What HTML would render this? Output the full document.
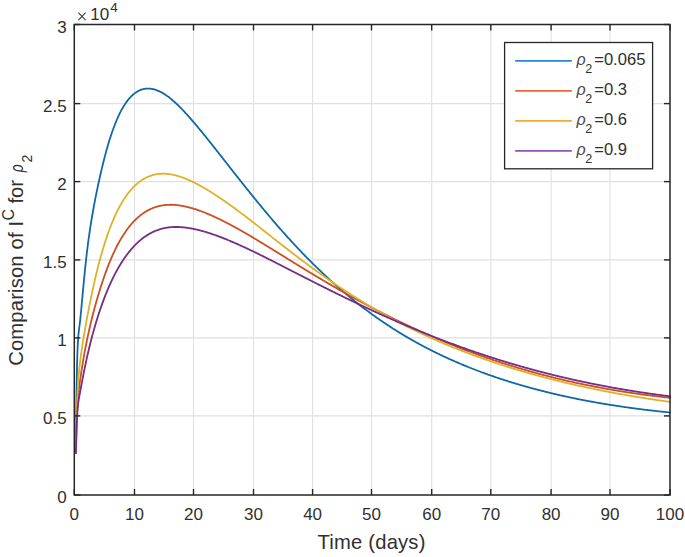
<!DOCTYPE html>
<html><head><meta charset="utf-8"><style>
html,body{margin:0;padding:0;background:#fff;}
svg{display:block;}
text{font-family:"Liberation Sans",sans-serif;fill:#303030;}
</style></head><body>
<svg width="685" height="557" viewBox="0 0 685 557">
<rect width="685" height="557" fill="#fff"/>
<line x1="134.5" y1="24.5" x2="134.5" y2="495.0" stroke="#e0e0e0" stroke-width="1.1"/>
<line x1="193.5" y1="24.5" x2="193.5" y2="495.0" stroke="#e0e0e0" stroke-width="1.1"/>
<line x1="253.5" y1="24.5" x2="253.5" y2="495.0" stroke="#e0e0e0" stroke-width="1.1"/>
<line x1="312.6" y1="24.5" x2="312.6" y2="495.0" stroke="#e0e0e0" stroke-width="1.1"/>
<line x1="371.5" y1="24.5" x2="371.5" y2="495.0" stroke="#e0e0e0" stroke-width="1.1"/>
<line x1="431.7" y1="24.5" x2="431.7" y2="495.0" stroke="#e0e0e0" stroke-width="1.1"/>
<line x1="490.8" y1="24.5" x2="490.8" y2="495.0" stroke="#e0e0e0" stroke-width="1.1"/>
<line x1="551.1" y1="24.5" x2="551.1" y2="495.0" stroke="#e0e0e0" stroke-width="1.1"/>
<line x1="610.0" y1="24.5" x2="610.0" y2="495.0" stroke="#e0e0e0" stroke-width="1.1"/>
<line x1="74.3" y1="103.6" x2="670.0" y2="103.6" stroke="#e0e0e0" stroke-width="1.1"/>
<line x1="74.3" y1="181.6" x2="670.0" y2="181.6" stroke="#e0e0e0" stroke-width="1.1"/>
<line x1="74.3" y1="259.9" x2="670.0" y2="259.9" stroke="#e0e0e0" stroke-width="1.1"/>
<line x1="74.3" y1="337.9" x2="670.0" y2="337.9" stroke="#e0e0e0" stroke-width="1.1"/>
<line x1="74.3" y1="415.9" x2="670.0" y2="415.9" stroke="#e0e0e0" stroke-width="1.1"/>
<path d="M75.91,453.00 L75.92,451.47 L75.95,447.47 L75.99,443.52 L76.02,439.64 L76.05,435.81 L76.09,432.05 L76.12,428.35 L76.16,424.71 L76.20,421.15 L76.23,417.66 L76.27,414.24 L76.31,410.89 L76.35,407.61 L76.39,404.41 L76.43,401.29 L76.47,398.24 L76.51,395.28 L76.55,392.39 L76.59,389.57 L76.64,386.84 L76.68,384.19 L76.72,381.61 L76.77,379.11 L76.81,376.69 L76.86,374.35 L76.90,372.08 L76.95,369.89 L77.00,367.78 L77.05,365.74 L77.09,363.77 L77.14,361.88 L77.19,360.06 L77.24,358.30 L77.29,356.62 L77.34,355.00 L77.40,353.45 L77.45,351.97 L77.50,350.55 L77.56,349.18 L77.61,347.88 L77.66,346.64 L77.72,345.45 L77.78,344.31 L77.83,343.22 L77.89,342.19 L77.95,341.20 L78.00,340.26 L78.06,339.36 L78.12,338.50 L78.18,337.68 L78.24,336.89 L78.30,336.14 L78.36,335.42 L78.43,334.73 L78.49,334.07 L78.55,333.44 L78.62,332.82 L78.68,332.23 L78.74,331.65 L78.81,331.09 L78.88,330.54 L78.94,330.00 L79.01,329.47 L79.08,328.95 L79.15,328.42 L79.21,327.90 L79.28,327.38 L79.35,326.85 L79.42,326.32 L79.50,325.78 L79.57,325.23 L79.64,324.66 L79.71,324.08 L79.79,323.48 L79.86,322.86 L79.93,322.23 L80.01,321.57 L80.08,320.90 L80.16,320.21 L80.24,319.51 L80.31,318.79 L80.39,318.05 L80.47,317.30 L80.55,316.53 L80.63,315.75 L80.71,314.95 L80.79,314.14 L80.87,313.32 L80.95,312.49 L81.04,311.64 L81.12,310.78 L81.20,309.91 L81.29,309.03 L81.37,308.13 L81.46,307.23 L81.54,306.32 L81.63,305.39 L81.72,304.46 L81.80,303.52 L81.89,302.57 L81.98,301.61 L82.07,300.65 L82.16,299.67 L82.25,298.69 L82.34,297.71 L82.43,296.72 L82.52,295.72 L82.62,294.71 L82.71,293.70 L82.80,292.69 L82.90,291.67 L82.99,290.65 L83.09,289.62 L83.18,288.59 L83.28,287.56 L83.38,286.52 L83.48,285.48 L83.57,284.44 L83.67,283.40 L83.77,282.35 L83.87,281.31 L83.97,280.26 L84.07,279.21 L84.17,278.16 L84.28,277.11 L84.38,276.06 L84.48,275.02 L84.59,273.97 L84.69,272.92 L84.80,271.87 L84.90,270.83 L85.01,269.79 L85.12,268.75 L85.22,267.71 L85.33,266.67 L85.44,265.64 L85.55,264.61 L85.66,263.58 L85.77,262.55 L85.88,261.53 L85.99,260.51 L86.10,259.50 L86.21,258.49 L86.86,252.84 L87.51,247.51 L88.16,242.46 L88.81,237.65 L89.46,233.07 L90.11,228.68 L90.76,224.47 L91.41,220.42 L92.06,216.51 L92.71,212.73 L93.36,209.07 L94.01,205.52 L94.66,202.06 L95.31,198.69 L95.95,195.41 L96.60,192.20 L97.25,189.06 L97.90,185.98 L98.55,182.96 L99.20,180.00 L99.85,177.09 L100.50,174.22 L101.15,171.41 L101.80,168.65 L102.45,165.94 L103.10,163.28 L103.75,160.68 L104.40,158.13 L105.05,155.64 L105.70,153.20 L106.34,150.82 L106.99,148.49 L107.64,146.22 L108.29,144.01 L108.94,141.84 L109.59,139.74 L110.24,137.69 L110.89,135.69 L111.54,133.74 L112.19,131.85 L112.84,130.00 L113.49,128.21 L114.14,126.47 L114.79,124.78 L115.44,123.14 L116.09,121.54 L116.73,119.99 L117.38,118.49 L118.03,117.04 L118.68,115.63 L119.33,114.27 L119.98,112.95 L120.63,111.67 L121.28,110.44 L121.93,109.24 L122.58,108.09 L123.23,106.98 L123.88,105.91 L124.53,104.88 L125.18,103.89 L125.83,102.93 L126.48,102.02 L127.12,101.14 L127.77,100.29 L128.42,99.48 L129.07,98.70 L129.72,97.96 L130.37,97.25 L131.02,96.57 L131.67,95.92 L132.32,95.31 L132.97,94.72 L133.62,94.17 L134.27,93.64 L134.92,93.15 L135.57,92.68 L136.22,92.24 L136.87,91.83 L137.51,91.44 L138.16,91.08 L138.81,90.75 L139.46,90.44 L140.11,90.16 L140.76,89.90 L141.41,89.67 L142.06,89.46 L142.71,89.27 L143.36,89.11 L144.01,88.97 L144.66,88.85 L145.31,88.75 L145.96,88.67 L146.61,88.62 L147.26,88.58 L147.90,88.57 L148.55,88.57 L149.20,88.60 L149.85,88.64 L150.50,88.71 L151.15,88.79 L151.80,88.89 L152.45,89.01 L153.10,89.15 L153.75,89.30 L154.40,89.47 L155.05,89.66 L155.70,89.86 L156.35,90.08 L157.00,90.32 L157.64,90.57 L158.29,90.84 L158.94,91.13 L159.59,91.43 L160.24,91.74 L160.89,92.07 L161.54,92.41 L162.19,92.77 L162.84,93.14 L163.49,93.53 L164.14,93.93 L164.79,94.34 L165.44,94.76 L166.09,95.20 L166.74,95.65 L167.39,96.12 L168.03,96.59 L168.68,97.08 L169.33,97.58 L169.98,98.09 L170.63,98.61 L171.28,99.15 L171.93,99.69 L172.58,100.24 L173.23,100.81 L173.88,101.38 L174.53,101.96 L175.18,102.55 L175.83,103.15 L176.48,103.76 L177.13,104.38 L177.78,105.00 L178.42,105.63 L179.07,106.27 L179.72,106.92 L180.37,107.57 L181.02,108.23 L181.67,108.90 L182.32,109.57 L182.97,110.25 L183.62,110.94 L184.27,111.63 L184.92,112.33 L185.57,113.03 L186.22,113.74 L186.87,114.45 L187.52,115.17 L188.17,115.89 L188.81,116.62 L189.46,117.35 L190.11,118.09 L190.76,118.83 L191.41,119.57 L192.06,120.32 L192.71,121.08 L193.36,121.83 L194.01,122.59 L194.66,123.35 L195.31,124.12 L195.96,124.89 L196.61,125.66 L197.26,126.44 L197.91,127.22 L198.56,128.00 L199.20,128.78 L199.85,129.57 L200.50,130.36 L201.15,131.15 L201.80,131.94 L202.45,132.74 L203.10,133.54 L203.75,134.34 L204.40,135.14 L205.05,135.94 L205.70,136.75 L206.35,137.55 L207.00,138.36 L207.65,139.17 L208.30,139.98 L208.95,140.80 L209.59,141.61 L210.24,142.43 L210.89,143.24 L211.54,144.06 L212.19,144.88 L212.84,145.70 L213.49,146.52 L214.14,147.34 L214.79,148.16 L215.44,148.99 L216.09,149.81 L216.74,150.63 L217.39,151.46 L218.04,152.28 L218.69,153.11 L219.34,153.94 L219.98,154.76 L220.63,155.59 L221.28,156.42 L221.93,157.24 L222.58,158.07 L223.23,158.90 L223.88,159.73 L224.53,160.56 L225.18,161.38 L225.83,162.21 L226.48,163.04 L227.13,163.87 L227.78,164.70 L228.43,165.52 L229.08,166.35 L229.73,167.18 L230.37,168.01 L231.02,168.83 L231.67,169.66 L232.32,170.48 L232.97,171.31 L233.62,172.14 L234.27,172.96 L234.92,173.78 L235.57,174.61 L236.22,175.43 L236.87,176.26 L237.52,177.08 L238.17,177.90 L238.82,178.72 L239.47,179.54 L240.12,180.36 L240.76,181.18 L241.41,182.00 L242.06,182.82 L242.71,183.63 L243.36,184.45 L244.01,185.27 L244.66,186.08 L245.31,186.89 L245.96,187.71 L246.61,188.52 L247.26,189.33 L247.91,190.14 L248.56,190.95 L249.21,191.76 L249.86,192.57 L250.51,193.37 L251.15,194.18 L251.80,194.98 L252.45,195.79 L253.10,196.59 L253.75,197.39 L254.40,198.19 L255.05,198.99 L255.70,199.79 L256.35,200.59 L257.00,201.38 L257.65,202.18 L258.30,202.97 L258.95,203.76 L259.60,204.55 L260.25,205.34 L260.90,206.13 L261.54,206.91 L262.19,207.70 L262.84,208.48 L263.49,209.26 L264.14,210.04 L264.79,210.82 L265.44,211.60 L266.09,212.38 L266.74,213.15 L267.39,213.92 L268.04,214.70 L268.69,215.47 L269.34,216.23 L269.99,217.00 L270.64,217.77 L271.29,218.53 L271.93,219.29 L272.58,220.05 L273.23,220.81 L273.88,221.57 L274.53,222.32 L275.18,223.08 L275.83,223.83 L276.48,224.58 L277.13,225.33 L277.78,226.07 L278.43,226.82 L279.08,227.56 L279.73,228.30 L280.38,229.04 L281.03,229.78 L281.68,230.51 L282.32,231.25 L282.97,231.98 L283.62,232.71 L284.27,233.44 L284.92,234.17 L285.57,234.89 L286.22,235.62 L286.87,236.34 L287.52,237.06 L288.17,237.78 L288.82,238.49 L289.47,239.21 L290.12,239.92 L290.77,240.63 L291.42,241.34 L292.07,242.04 L292.71,242.75 L293.36,243.45 L294.01,244.15 L294.66,244.85 L295.31,245.55 L295.96,246.24 L296.61,246.94 L297.26,247.63 L297.91,248.32 L298.56,249.00 L299.21,249.69 L299.86,250.37 L300.51,251.05 L301.16,251.73 L301.81,252.41 L302.46,253.09 L303.10,253.76 L303.75,254.43 L304.40,255.10 L305.05,255.77 L305.70,256.44 L306.35,257.10 L307.00,257.76 L307.65,258.42 L308.30,259.08 L308.95,259.74 L309.60,260.39 L310.25,261.05 L310.90,261.70 L311.55,262.34 L312.20,262.99 L312.85,263.64 L313.49,264.28 L314.14,264.92 L314.79,265.56 L315.44,266.19 L316.09,266.83 L316.74,267.46 L317.39,268.09 L318.04,268.72 L318.69,269.35 L319.34,269.97 L319.99,270.60 L320.64,271.22 L321.29,271.84 L321.94,272.45 L322.59,273.07 L323.24,273.68 L323.88,274.29 L324.53,274.90 L325.18,275.51 L325.83,276.11 L326.48,276.72 L327.13,277.32 L327.78,277.92 L328.43,278.52 L329.08,279.11 L329.73,279.70 L330.38,280.30 L331.03,280.89 L331.68,281.47 L332.33,282.06 L332.98,282.64 L333.62,283.22 L334.27,283.80 L334.92,284.38 L335.57,284.96 L336.22,285.53 L336.87,286.11 L337.52,286.68 L338.17,287.24 L338.82,287.81 L339.47,288.37 L340.12,288.94 L340.77,289.50 L341.42,290.06 L342.07,290.61 L342.72,291.17 L343.37,291.72 L344.01,292.27 L344.66,292.82 L345.31,293.37 L345.96,293.91 L346.61,294.46 L347.26,295.00 L347.91,295.54 L348.56,296.08 L349.21,296.61 L349.86,297.15 L350.51,297.68 L351.16,298.21 L351.81,298.74 L352.46,299.27 L353.11,299.79 L353.76,300.31 L354.40,300.83 L355.05,301.35 L355.70,301.87 L356.35,302.39 L357.00,302.90 L357.65,303.41 L358.30,303.92 L358.95,304.43 L359.60,304.94 L360.25,305.44 L360.90,305.94 L361.55,306.44 L362.20,306.94 L362.85,307.44 L363.50,307.93 L364.15,308.43 L364.79,308.92 L365.44,309.41 L366.09,309.90 L366.74,310.38 L367.39,310.87 L368.04,311.35 L368.69,311.83 L369.34,312.31 L369.99,312.79 L370.64,313.26 L371.29,313.74 L371.94,314.21 L372.59,314.68 L373.24,315.15 L373.89,315.61 L374.54,316.08 L375.18,316.54 L375.83,317.00 L376.48,317.46 L377.13,317.92 L377.78,318.37 L378.43,318.83 L379.08,319.28 L379.73,319.73 L380.38,320.18 L381.03,320.63 L381.68,321.07 L382.33,321.52 L382.98,321.96 L383.63,322.40 L384.28,322.84 L384.93,323.27 L385.57,323.71 L386.22,324.14 L386.87,324.58 L387.52,325.01 L388.17,325.43 L388.82,325.86 L389.47,326.29 L390.12,326.71 L390.77,327.13 L391.42,327.55 L392.07,327.97 L392.72,328.39 L393.37,328.80 L394.02,329.21 L394.67,329.63 L395.32,330.04 L395.96,330.44 L396.61,330.85 L397.26,331.26 L397.91,331.66 L398.56,332.06 L399.21,332.46 L399.86,332.86 L400.51,333.26 L401.16,333.65 L401.81,334.05 L402.46,334.44 L403.11,334.83 L403.76,335.22 L404.41,335.60 L405.06,335.99 L405.71,336.37 L406.35,336.76 L407.00,337.14 L407.65,337.52 L408.30,337.90 L408.95,338.27 L409.60,338.65 L410.25,339.02 L410.90,339.39 L411.55,339.76 L412.20,340.13 L412.85,340.50 L413.50,340.87 L414.15,341.23 L414.80,341.60 L415.45,341.96 L416.10,342.32 L416.74,342.68 L417.39,343.03 L418.04,343.39 L418.69,343.74 L419.34,344.10 L419.99,344.45 L420.64,344.80 L421.29,345.15 L421.94,345.50 L422.59,345.84 L423.24,346.19 L423.89,346.53 L424.54,346.87 L425.19,347.21 L425.84,347.55 L426.49,347.89 L427.13,348.23 L427.78,348.56 L428.43,348.90 L429.08,349.23 L429.73,349.56 L430.38,349.89 L431.03,350.22 L431.68,350.55 L432.33,350.87 L432.98,351.20 L433.63,351.52 L434.28,351.84 L434.93,352.17 L435.58,352.48 L436.23,352.80 L436.88,353.12 L437.52,353.44 L438.17,353.75 L438.82,354.06 L439.47,354.38 L440.12,354.69 L440.77,355.00 L441.42,355.31 L442.07,355.61 L442.72,355.92 L443.37,356.22 L444.02,356.53 L444.67,356.83 L445.32,357.13 L445.97,357.43 L446.62,357.73 L447.27,358.03 L447.91,358.32 L448.56,358.62 L449.21,358.91 L449.86,359.21 L450.51,359.50 L451.16,359.79 L451.81,360.08 L452.46,360.37 L453.11,360.65 L453.76,360.94 L454.41,361.23 L455.06,361.51 L455.71,361.79 L456.36,362.07 L457.01,362.35 L457.66,362.63 L458.30,362.91 L458.95,363.19 L459.60,363.47 L460.25,363.74 L460.90,364.01 L461.55,364.29 L462.20,364.56 L462.85,364.83 L463.50,365.10 L464.15,365.37 L464.80,365.63 L465.45,365.90 L466.10,366.17 L466.75,366.43 L467.40,366.69 L468.05,366.96 L468.69,367.22 L469.34,367.48 L469.99,367.74 L470.64,367.99 L471.29,368.25 L471.94,368.51 L472.59,368.76 L473.24,369.02 L473.89,369.27 L474.54,369.52 L475.19,369.77 L475.84,370.02 L476.49,370.27 L477.14,370.52 L477.79,370.77 L478.44,371.01 L479.08,371.26 L479.73,371.50 L480.38,371.75 L481.03,371.99 L481.68,372.23 L482.33,372.47 L482.98,372.71 L483.63,372.95 L484.28,373.18 L484.93,373.42 L485.58,373.66 L486.23,373.89 L486.88,374.12 L487.53,374.36 L488.18,374.59 L488.83,374.82 L489.47,375.05 L490.12,375.28 L490.77,375.51 L491.42,375.73 L492.07,375.96 L492.72,376.19 L493.37,376.41 L494.02,376.63 L494.67,376.86 L495.32,377.08 L495.97,377.30 L496.62,377.52 L497.27,377.74 L497.92,377.96 L498.57,378.18 L499.21,378.39 L499.86,378.61 L500.51,378.82 L501.16,379.04 L501.81,379.25 L502.46,379.46 L503.11,379.67 L503.76,379.88 L504.41,380.09 L505.06,380.30 L505.71,380.51 L506.36,380.72 L507.01,380.92 L507.66,381.13 L508.31,381.33 L508.96,381.54 L509.60,381.74 L510.25,381.94 L510.90,382.15 L511.55,382.35 L512.20,382.55 L512.85,382.74 L513.50,382.94 L514.15,383.14 L514.80,383.34 L515.45,383.53 L516.10,383.73 L516.75,383.92 L517.40,384.12 L518.05,384.31 L518.70,384.50 L519.35,384.69 L519.99,384.88 L520.64,385.07 L521.29,385.26 L521.94,385.45 L522.59,385.64 L523.24,385.82 L523.89,386.01 L524.54,386.19 L525.19,386.38 L525.84,386.56 L526.49,386.74 L527.14,386.92 L527.79,387.11 L528.44,387.29 L529.09,387.47 L529.74,387.65 L530.38,387.82 L531.03,388.00 L531.68,388.18 L532.33,388.35 L532.98,388.53 L533.63,388.70 L534.28,388.88 L534.93,389.05 L535.58,389.22 L536.23,389.40 L536.88,389.57 L537.53,389.74 L538.18,389.91 L538.83,390.08 L539.48,390.24 L540.13,390.41 L540.77,390.58 L541.42,390.74 L542.07,390.91 L542.72,391.07 L543.37,391.24 L544.02,391.40 L544.67,391.56 L545.32,391.73 L545.97,391.89 L546.62,392.05 L547.27,392.21 L547.92,392.37 L548.57,392.53 L549.22,392.68 L549.87,392.84 L550.52,393.00 L551.16,393.15 L551.81,393.31 L552.46,393.47 L553.11,393.62 L553.76,393.77 L554.41,393.93 L555.06,394.08 L555.71,394.23 L556.36,394.38 L557.01,394.53 L557.66,394.68 L558.31,394.83 L558.96,394.98 L559.61,395.12 L560.26,395.27 L560.91,395.42 L561.55,395.56 L562.20,395.71 L562.85,395.85 L563.50,396.00 L564.15,396.14 L564.80,396.28 L565.45,396.43 L566.10,396.57 L566.75,396.71 L567.40,396.85 L568.05,396.99 L568.70,397.13 L569.35,397.26 L570.00,397.40 L570.65,397.54 L571.30,397.68 L571.94,397.81 L572.59,397.95 L573.24,398.08 L573.89,398.22 L574.54,398.35 L575.19,398.48 L575.84,398.62 L576.49,398.75 L577.14,398.88 L577.79,399.01 L578.44,399.14 L579.09,399.27 L579.74,399.40 L580.39,399.53 L581.04,399.66 L581.69,399.78 L582.33,399.91 L582.98,400.04 L583.63,400.16 L584.28,400.29 L584.93,400.41 L585.58,400.53 L586.23,400.66 L586.88,400.78 L587.53,400.90 L588.18,401.03 L588.83,401.15 L589.48,401.27 L590.13,401.39 L590.78,401.51 L591.43,401.63 L592.08,401.74 L592.72,401.86 L593.37,401.98 L594.02,402.10 L594.67,402.21 L595.32,402.33 L595.97,402.44 L596.62,402.56 L597.27,402.67 L597.92,402.79 L598.57,402.90 L599.22,403.01 L599.87,403.12 L600.52,403.24 L601.17,403.35 L601.82,403.46 L602.47,403.57 L603.11,403.68 L603.76,403.79 L604.41,403.90 L605.06,404.00 L605.71,404.11 L606.36,404.22 L607.01,404.32 L607.66,404.43 L608.31,404.54 L608.96,404.64 L609.61,404.75 L610.26,404.85 L610.91,404.95 L611.56,405.06 L612.21,405.16 L612.86,405.26 L613.50,405.36 L614.15,405.46 L614.80,405.56 L615.45,405.66 L616.10,405.76 L616.75,405.86 L617.40,405.96 L618.05,406.06 L618.70,406.16 L619.35,406.25 L620.00,406.35 L620.65,406.45 L621.30,406.54 L621.95,406.64 L622.60,406.73 L623.25,406.83 L623.89,406.92 L624.54,407.02 L625.19,407.11 L625.84,407.20 L626.49,407.29 L627.14,407.39 L627.79,407.48 L628.44,407.57 L629.09,407.66 L629.74,407.75 L630.39,407.84 L631.04,407.93 L631.69,408.01 L632.34,408.10 L632.99,408.19 L633.64,408.28 L634.28,408.36 L634.93,408.45 L635.58,408.54 L636.23,408.62 L636.88,408.71 L637.53,408.79 L638.18,408.87 L638.83,408.96 L639.48,409.04 L640.13,409.12 L640.78,409.21 L641.43,409.29 L642.08,409.37 L642.73,409.45 L643.38,409.53 L644.03,409.61 L644.67,409.69 L645.32,409.77 L645.97,409.85 L646.62,409.93 L647.27,410.01 L647.92,410.08 L648.57,410.16 L649.22,410.24 L649.87,410.31 L650.52,410.39 L651.17,410.47 L651.82,410.54 L652.47,410.62 L653.12,410.69 L653.77,410.76 L654.42,410.84 L655.06,410.91 L655.71,410.98 L656.36,411.06 L657.01,411.13 L657.66,411.20 L658.31,411.27 L658.96,411.34 L659.61,411.41 L660.26,411.48 L660.91,411.55 L661.56,411.62 L662.21,411.69 L662.86,411.76 L663.51,411.83 L664.16,411.89 L664.81,411.96 L665.45,412.03 L666.10,412.09 L666.75,412.16 L667.40,412.23 L668.05,412.29 L668.70,412.36 L669.35,412.42 L670.00,412.48" fill="none" stroke="#1068a5" stroke-width="1.8" stroke-linejoin="round" stroke-linecap="round"/>
<path d="M75.92,453.00 L75.92,452.95 L75.95,451.28 L75.99,449.63 L76.02,447.99 L76.05,446.36 L76.09,444.76 L76.12,443.17 L76.16,441.60 L76.20,440.05 L76.23,438.51 L76.27,437.00 L76.31,435.51 L76.35,434.04 L76.39,432.60 L76.43,431.17 L76.47,429.77 L76.51,428.39 L76.55,427.04 L76.59,425.71 L76.64,424.40 L76.68,423.12 L76.72,421.86 L76.77,420.63 L76.81,419.42 L76.86,418.23 L76.90,417.07 L76.95,415.93 L77.00,414.82 L77.05,413.73 L77.09,412.66 L77.14,411.62 L77.19,410.60 L77.24,409.60 L77.29,408.63 L77.34,407.68 L77.40,406.75 L77.45,405.84 L77.50,404.95 L77.56,404.09 L77.61,403.24 L77.66,402.41 L77.72,401.61 L77.78,400.82 L77.83,400.05 L77.89,399.30 L77.95,398.56 L78.00,397.84 L78.06,397.14 L78.12,396.45 L78.18,395.78 L78.24,395.12 L78.30,394.48 L78.36,393.85 L78.43,393.23 L78.49,392.62 L78.55,392.02 L78.62,391.43 L78.68,390.86 L78.74,390.29 L78.81,389.73 L78.88,389.17 L78.94,388.63 L79.01,388.09 L79.08,387.55 L79.15,387.02 L79.21,386.49 L79.28,385.97 L79.35,385.45 L79.42,384.93 L79.50,384.41 L79.57,383.89 L79.64,383.38 L79.71,382.86 L79.79,382.34 L79.86,381.82 L79.93,381.29 L80.01,380.77 L80.08,380.24 L80.16,379.71 L80.24,379.18 L80.31,378.65 L80.39,378.12 L80.47,377.58 L80.55,377.05 L80.63,376.51 L80.71,375.97 L80.79,375.43 L80.87,374.89 L80.95,374.34 L81.04,373.80 L81.12,373.25 L81.20,372.71 L81.29,372.16 L81.37,371.61 L81.46,371.06 L81.54,370.51 L81.63,369.96 L81.72,369.40 L81.80,368.85 L81.89,368.30 L81.98,367.74 L82.07,367.18 L82.16,366.63 L82.25,366.07 L82.34,365.51 L82.43,364.95 L82.52,364.39 L82.62,363.83 L82.71,363.27 L82.80,362.71 L82.90,362.14 L82.99,361.58 L83.09,361.02 L83.18,360.45 L83.28,359.89 L83.38,359.32 L83.48,358.76 L83.57,358.19 L83.67,357.63 L83.77,357.06 L83.87,356.49 L83.97,355.92 L84.07,355.36 L84.17,354.79 L84.28,354.22 L84.38,353.65 L84.48,353.08 L84.59,352.52 L84.69,351.95 L84.80,351.38 L84.90,350.81 L85.01,350.24 L85.12,349.67 L85.22,349.10 L85.33,348.53 L85.44,347.96 L85.55,347.40 L85.66,346.83 L85.77,346.26 L85.88,345.69 L85.99,345.12 L86.10,344.55 L86.21,343.98 L86.86,340.76 L87.51,337.62 L88.16,334.57 L88.81,331.61 L89.46,328.72 L90.11,325.90 L90.76,323.15 L91.41,320.46 L92.06,317.82 L92.71,315.25 L93.36,312.73 L94.01,310.25 L94.66,307.83 L95.31,305.45 L95.95,303.11 L96.60,300.82 L97.25,298.56 L97.90,296.35 L98.55,294.16 L99.20,292.02 L99.85,289.90 L100.50,287.82 L101.15,285.77 L101.80,283.76 L102.45,281.78 L103.10,279.83 L103.75,277.92 L104.40,276.04 L105.05,274.19 L105.70,272.38 L106.34,270.60 L106.99,268.86 L107.64,267.15 L108.29,265.47 L108.94,263.83 L109.59,262.22 L110.24,260.64 L110.89,259.09 L111.54,257.58 L112.19,256.09 L112.84,254.64 L113.49,253.21 L114.14,251.82 L114.79,250.45 L115.44,249.11 L116.09,247.80 L116.73,246.52 L117.38,245.27 L118.03,244.04 L118.68,242.84 L119.33,241.67 L119.98,240.52 L120.63,239.39 L121.28,238.29 L121.93,237.22 L122.58,236.17 L123.23,235.14 L123.88,234.14 L124.53,233.15 L125.18,232.20 L125.83,231.26 L126.48,230.34 L127.12,229.45 L127.77,228.58 L128.42,227.73 L129.07,226.89 L129.72,226.08 L130.37,225.29 L131.02,224.52 L131.67,223.77 L132.32,223.03 L132.97,222.32 L133.62,221.62 L134.27,220.94 L134.92,220.28 L135.57,219.63 L136.22,219.01 L136.87,218.40 L137.51,217.80 L138.16,217.23 L138.81,216.67 L139.46,216.12 L140.11,215.59 L140.76,215.08 L141.41,214.58 L142.06,214.10 L142.71,213.63 L143.36,213.18 L144.01,212.74 L144.66,212.31 L145.31,211.90 L145.96,211.50 L146.61,211.11 L147.26,210.74 L147.90,210.38 L148.55,210.04 L149.20,209.71 L149.85,209.38 L150.50,209.08 L151.15,208.78 L151.80,208.50 L152.45,208.22 L153.10,207.96 L153.75,207.71 L154.40,207.48 L155.05,207.25 L155.70,207.03 L156.35,206.83 L157.00,206.63 L157.64,206.45 L158.29,206.28 L158.94,206.11 L159.59,205.96 L160.24,205.82 L160.89,205.68 L161.54,205.56 L162.19,205.44 L162.84,205.34 L163.49,205.24 L164.14,205.16 L164.79,205.08 L165.44,205.01 L166.09,204.95 L166.74,204.90 L167.39,204.86 L168.03,204.82 L168.68,204.80 L169.33,204.78 L169.98,204.77 L170.63,204.76 L171.28,204.77 L171.93,204.78 L172.58,204.80 L173.23,204.83 L173.88,204.87 L174.53,204.91 L175.18,204.96 L175.83,205.01 L176.48,205.07 L177.13,205.14 L177.78,205.21 L178.42,205.29 L179.07,205.38 L179.72,205.47 L180.37,205.57 L181.02,205.68 L181.67,205.79 L182.32,205.90 L182.97,206.02 L183.62,206.15 L184.27,206.28 L184.92,206.42 L185.57,206.56 L186.22,206.70 L186.87,206.86 L187.52,207.01 L188.17,207.17 L188.81,207.34 L189.46,207.51 L190.11,207.68 L190.76,207.86 L191.41,208.05 L192.06,208.23 L192.71,208.42 L193.36,208.62 L194.01,208.82 L194.66,209.02 L195.31,209.23 L195.96,209.44 L196.61,209.66 L197.26,209.88 L197.91,210.10 L198.56,210.32 L199.20,210.55 L199.85,210.79 L200.50,211.02 L201.15,211.26 L201.80,211.51 L202.45,211.75 L203.10,212.00 L203.75,212.25 L204.40,212.51 L205.05,212.77 L205.70,213.03 L206.35,213.29 L207.00,213.56 L207.65,213.83 L208.30,214.10 L208.95,214.38 L209.59,214.66 L210.24,214.94 L210.89,215.22 L211.54,215.51 L212.19,215.80 L212.84,216.09 L213.49,216.38 L214.14,216.68 L214.79,216.97 L215.44,217.27 L216.09,217.58 L216.74,217.88 L217.39,218.19 L218.04,218.50 L218.69,218.81 L219.34,219.12 L219.98,219.44 L220.63,219.76 L221.28,220.08 L221.93,220.40 L222.58,220.72 L223.23,221.05 L223.88,221.37 L224.53,221.70 L225.18,222.03 L225.83,222.37 L226.48,222.70 L227.13,223.04 L227.78,223.38 L228.43,223.71 L229.08,224.06 L229.73,224.40 L230.37,224.74 L231.02,225.09 L231.67,225.44 L232.32,225.79 L232.97,226.14 L233.62,226.49 L234.27,226.84 L234.92,227.20 L235.57,227.55 L236.22,227.91 L236.87,228.27 L237.52,228.63 L238.17,228.99 L238.82,229.36 L239.47,229.72 L240.12,230.09 L240.76,230.45 L241.41,230.82 L242.06,231.19 L242.71,231.56 L243.36,231.93 L244.01,232.31 L244.66,232.68 L245.31,233.06 L245.96,233.43 L246.61,233.81 L247.26,234.19 L247.91,234.57 L248.56,234.95 L249.21,235.33 L249.86,235.71 L250.51,236.09 L251.15,236.48 L251.80,236.86 L252.45,237.25 L253.10,237.64 L253.75,238.02 L254.40,238.41 L255.05,238.80 L255.70,239.19 L256.35,239.58 L257.00,239.97 L257.65,240.36 L258.30,240.76 L258.95,241.15 L259.60,241.54 L260.25,241.94 L260.90,242.33 L261.54,242.73 L262.19,243.12 L262.84,243.52 L263.49,243.92 L264.14,244.31 L264.79,244.71 L265.44,245.11 L266.09,245.51 L266.74,245.90 L267.39,246.30 L268.04,246.70 L268.69,247.10 L269.34,247.50 L269.99,247.90 L270.64,248.30 L271.29,248.70 L271.93,249.10 L272.58,249.50 L273.23,249.91 L273.88,250.31 L274.53,250.71 L275.18,251.11 L275.83,251.51 L276.48,251.91 L277.13,252.32 L277.78,252.72 L278.43,253.12 L279.08,253.52 L279.73,253.92 L280.38,254.33 L281.03,254.73 L281.68,255.13 L282.32,255.53 L282.97,255.93 L283.62,256.34 L284.27,256.74 L284.92,257.14 L285.57,257.54 L286.22,257.94 L286.87,258.35 L287.52,258.75 L288.17,259.15 L288.82,259.55 L289.47,259.95 L290.12,260.35 L290.77,260.75 L291.42,261.15 L292.07,261.56 L292.71,261.96 L293.36,262.36 L294.01,262.76 L294.66,263.16 L295.31,263.56 L295.96,263.95 L296.61,264.35 L297.26,264.75 L297.91,265.15 L298.56,265.55 L299.21,265.95 L299.86,266.35 L300.51,266.74 L301.16,267.14 L301.81,267.54 L302.46,267.93 L303.10,268.33 L303.75,268.73 L304.40,269.12 L305.05,269.52 L305.70,269.91 L306.35,270.31 L307.00,270.70 L307.65,271.09 L308.30,271.49 L308.95,271.88 L309.60,272.27 L310.25,272.67 L310.90,273.06 L311.55,273.45 L312.20,273.84 L312.85,274.23 L313.49,274.62 L314.14,275.01 L314.79,275.40 L315.44,275.79 L316.09,276.18 L316.74,276.57 L317.39,276.96 L318.04,277.34 L318.69,277.73 L319.34,278.12 L319.99,278.50 L320.64,278.89 L321.29,279.27 L321.94,279.66 L322.59,280.04 L323.24,280.43 L323.88,280.81 L324.53,281.19 L325.18,281.58 L325.83,281.96 L326.48,282.34 L327.13,282.72 L327.78,283.10 L328.43,283.48 L329.08,283.86 L329.73,284.24 L330.38,284.62 L331.03,284.99 L331.68,285.37 L332.33,285.75 L332.98,286.12 L333.62,286.50 L334.27,286.87 L334.92,287.25 L335.57,287.62 L336.22,288.00 L336.87,288.37 L337.52,288.74 L338.17,289.11 L338.82,289.48 L339.47,289.86 L340.12,290.23 L340.77,290.60 L341.42,290.96 L342.07,291.33 L342.72,291.70 L343.37,292.07 L344.01,292.43 L344.66,292.80 L345.31,293.17 L345.96,293.53 L346.61,293.90 L347.26,294.26 L347.91,294.62 L348.56,294.99 L349.21,295.35 L349.86,295.71 L350.51,296.07 L351.16,296.43 L351.81,296.79 L352.46,297.15 L353.11,297.51 L353.76,297.87 L354.40,298.22 L355.05,298.58 L355.70,298.94 L356.35,299.29 L357.00,299.65 L357.65,300.00 L358.30,300.36 L358.95,300.71 L359.60,301.06 L360.25,301.41 L360.90,301.77 L361.55,302.12 L362.20,302.47 L362.85,302.82 L363.50,303.17 L364.15,303.51 L364.79,303.86 L365.44,304.21 L366.09,304.56 L366.74,304.90 L367.39,305.25 L368.04,305.59 L368.69,305.94 L369.34,306.28 L369.99,306.62 L370.64,306.96 L371.29,307.31 L371.94,307.65 L372.59,307.99 L373.24,308.33 L373.89,308.67 L374.54,309.01 L375.18,309.34 L375.83,309.68 L376.48,310.02 L377.13,310.35 L377.78,310.69 L378.43,311.02 L379.08,311.36 L379.73,311.69 L380.38,312.02 L381.03,312.36 L381.68,312.69 L382.33,313.02 L382.98,313.35 L383.63,313.68 L384.28,314.01 L384.93,314.34 L385.57,314.66 L386.22,314.99 L386.87,315.32 L387.52,315.65 L388.17,315.97 L388.82,316.30 L389.47,316.62 L390.12,316.94 L390.77,317.27 L391.42,317.59 L392.07,317.91 L392.72,318.23 L393.37,318.55 L394.02,318.87 L394.67,319.19 L395.32,319.51 L395.96,319.83 L396.61,320.14 L397.26,320.46 L397.91,320.78 L398.56,321.09 L399.21,321.41 L399.86,321.72 L400.51,322.03 L401.16,322.35 L401.81,322.66 L402.46,322.97 L403.11,323.28 L403.76,323.59 L404.41,323.90 L405.06,324.21 L405.71,324.52 L406.35,324.83 L407.00,325.13 L407.65,325.44 L408.30,325.75 L408.95,326.05 L409.60,326.36 L410.25,326.66 L410.90,326.96 L411.55,327.27 L412.20,327.57 L412.85,327.87 L413.50,328.17 L414.15,328.47 L414.80,328.77 L415.45,329.07 L416.10,329.37 L416.74,329.66 L417.39,329.96 L418.04,330.26 L418.69,330.55 L419.34,330.85 L419.99,331.14 L420.64,331.43 L421.29,331.73 L421.94,332.02 L422.59,332.31 L423.24,332.60 L423.89,332.89 L424.54,333.18 L425.19,333.47 L425.84,333.76 L426.49,334.04 L427.13,334.33 L427.78,334.62 L428.43,334.90 L429.08,335.19 L429.73,335.47 L430.38,335.75 L431.03,336.04 L431.68,336.32 L432.33,336.60 L432.98,336.88 L433.63,337.16 L434.28,337.44 L434.93,337.72 L435.58,338.00 L436.23,338.27 L436.88,338.55 L437.52,338.83 L438.17,339.10 L438.82,339.38 L439.47,339.65 L440.12,339.92 L440.77,340.20 L441.42,340.47 L442.07,340.74 L442.72,341.01 L443.37,341.28 L444.02,341.55 L444.67,341.82 L445.32,342.09 L445.97,342.35 L446.62,342.62 L447.27,342.88 L447.91,343.15 L448.56,343.41 L449.21,343.68 L449.86,343.94 L450.51,344.20 L451.16,344.47 L451.81,344.73 L452.46,344.99 L453.11,345.25 L453.76,345.51 L454.41,345.76 L455.06,346.02 L455.71,346.28 L456.36,346.53 L457.01,346.79 L457.66,347.05 L458.30,347.30 L458.95,347.55 L459.60,347.81 L460.25,348.06 L460.90,348.31 L461.55,348.56 L462.20,348.81 L462.85,349.06 L463.50,349.31 L464.15,349.56 L464.80,349.81 L465.45,350.05 L466.10,350.30 L466.75,350.54 L467.40,350.79 L468.05,351.03 L468.69,351.28 L469.34,351.52 L469.99,351.76 L470.64,352.00 L471.29,352.25 L471.94,352.49 L472.59,352.73 L473.24,352.96 L473.89,353.20 L474.54,353.44 L475.19,353.68 L475.84,353.91 L476.49,354.15 L477.14,354.38 L477.79,354.62 L478.44,354.85 L479.08,355.08 L479.73,355.32 L480.38,355.55 L481.03,355.78 L481.68,356.01 L482.33,356.24 L482.98,356.47 L483.63,356.70 L484.28,356.92 L484.93,357.15 L485.58,357.38 L486.23,357.60 L486.88,357.83 L487.53,358.05 L488.18,358.28 L488.83,358.50 L489.47,358.72 L490.12,358.94 L490.77,359.16 L491.42,359.39 L492.07,359.61 L492.72,359.82 L493.37,360.04 L494.02,360.26 L494.67,360.48 L495.32,360.69 L495.97,360.91 L496.62,361.13 L497.27,361.34 L497.92,361.55 L498.57,361.77 L499.21,361.98 L499.86,362.19 L500.51,362.40 L501.16,362.61 L501.81,362.82 L502.46,363.03 L503.11,363.24 L503.76,363.45 L504.41,363.66 L505.06,363.87 L505.71,364.07 L506.36,364.28 L507.01,364.48 L507.66,364.69 L508.31,364.89 L508.96,365.09 L509.60,365.30 L510.25,365.50 L510.90,365.70 L511.55,365.90 L512.20,366.10 L512.85,366.30 L513.50,366.50 L514.15,366.70 L514.80,366.89 L515.45,367.09 L516.10,367.29 L516.75,367.48 L517.40,367.68 L518.05,367.87 L518.70,368.06 L519.35,368.26 L519.99,368.45 L520.64,368.64 L521.29,368.83 L521.94,369.02 L522.59,369.21 L523.24,369.40 L523.89,369.59 L524.54,369.78 L525.19,369.97 L525.84,370.15 L526.49,370.34 L527.14,370.52 L527.79,370.71 L528.44,370.89 L529.09,371.08 L529.74,371.26 L530.38,371.44 L531.03,371.63 L531.68,371.81 L532.33,371.99 L532.98,372.17 L533.63,372.35 L534.28,372.53 L534.93,372.70 L535.58,372.88 L536.23,373.06 L536.88,373.24 L537.53,373.41 L538.18,373.59 L538.83,373.76 L539.48,373.94 L540.13,374.11 L540.77,374.28 L541.42,374.45 L542.07,374.63 L542.72,374.80 L543.37,374.97 L544.02,375.14 L544.67,375.31 L545.32,375.47 L545.97,375.64 L546.62,375.81 L547.27,375.98 L547.92,376.14 L548.57,376.31 L549.22,376.47 L549.87,376.64 L550.52,376.80 L551.16,376.97 L551.81,377.13 L552.46,377.29 L553.11,377.45 L553.76,377.61 L554.41,377.77 L555.06,377.93 L555.71,378.09 L556.36,378.25 L557.01,378.41 L557.66,378.57 L558.31,378.73 L558.96,378.88 L559.61,379.04 L560.26,379.19 L560.91,379.35 L561.55,379.50 L562.20,379.66 L562.85,379.81 L563.50,379.96 L564.15,380.11 L564.80,380.26 L565.45,380.41 L566.10,380.56 L566.75,380.71 L567.40,380.86 L568.05,381.01 L568.70,381.16 L569.35,381.31 L570.00,381.45 L570.65,381.60 L571.30,381.74 L571.94,381.89 L572.59,382.03 L573.24,382.18 L573.89,382.32 L574.54,382.46 L575.19,382.61 L575.84,382.75 L576.49,382.89 L577.14,383.03 L577.79,383.17 L578.44,383.31 L579.09,383.45 L579.74,383.59 L580.39,383.72 L581.04,383.86 L581.69,384.00 L582.33,384.14 L582.98,384.27 L583.63,384.41 L584.28,384.54 L584.93,384.67 L585.58,384.81 L586.23,384.94 L586.88,385.07 L587.53,385.20 L588.18,385.34 L588.83,385.47 L589.48,385.60 L590.13,385.73 L590.78,385.86 L591.43,385.98 L592.08,386.11 L592.72,386.24 L593.37,386.37 L594.02,386.49 L594.67,386.62 L595.32,386.74 L595.97,386.87 L596.62,386.99 L597.27,387.12 L597.92,387.24 L598.57,387.36 L599.22,387.49 L599.87,387.61 L600.52,387.73 L601.17,387.85 L601.82,387.97 L602.47,388.09 L603.11,388.21 L603.76,388.33 L604.41,388.45 L605.06,388.56 L605.71,388.68 L606.36,388.80 L607.01,388.91 L607.66,389.03 L608.31,389.14 L608.96,389.26 L609.61,389.37 L610.26,389.48 L610.91,389.60 L611.56,389.71 L612.21,389.82 L612.86,389.93 L613.50,390.04 L614.15,390.15 L614.80,390.26 L615.45,390.37 L616.10,390.48 L616.75,390.59 L617.40,390.70 L618.05,390.80 L618.70,390.91 L619.35,391.02 L620.00,391.12 L620.65,391.23 L621.30,391.33 L621.95,391.44 L622.60,391.54 L623.25,391.65 L623.89,391.75 L624.54,391.85 L625.19,391.95 L625.84,392.05 L626.49,392.15 L627.14,392.25 L627.79,392.35 L628.44,392.45 L629.09,392.55 L629.74,392.65 L630.39,392.75 L631.04,392.85 L631.69,392.94 L632.34,393.04 L632.99,393.14 L633.64,393.23 L634.28,393.33 L634.93,393.42 L635.58,393.51 L636.23,393.61 L636.88,393.70 L637.53,393.79 L638.18,393.88 L638.83,393.98 L639.48,394.07 L640.13,394.16 L640.78,394.25 L641.43,394.34 L642.08,394.43 L642.73,394.52 L643.38,394.60 L644.03,394.69 L644.67,394.78 L645.32,394.87 L645.97,394.95 L646.62,395.04 L647.27,395.12 L647.92,395.21 L648.57,395.29 L649.22,395.38 L649.87,395.46 L650.52,395.54 L651.17,395.63 L651.82,395.71 L652.47,395.79 L653.12,395.87 L653.77,395.95 L654.42,396.03 L655.06,396.11 L655.71,396.19 L656.36,396.27 L657.01,396.35 L657.66,396.43 L658.31,396.50 L658.96,396.58 L659.61,396.66 L660.26,396.73 L660.91,396.81 L661.56,396.88 L662.21,396.96 L662.86,397.03 L663.51,397.11 L664.16,397.18 L664.81,397.25 L665.45,397.33 L666.10,397.40 L666.75,397.47 L667.40,397.54 L668.05,397.61 L668.70,397.68 L669.35,397.75 L670.00,397.82" fill="none" stroke="#cc4e22" stroke-width="1.8" stroke-linejoin="round" stroke-linecap="round"/>
<path d="M75.92,453.00 L75.92,452.80 L75.95,450.85 L75.99,448.92 L76.02,447.00 L76.05,445.09 L76.09,443.20 L76.12,441.32 L76.16,439.47 L76.20,437.63 L76.23,435.81 L76.27,434.01 L76.31,432.23 L76.35,430.47 L76.39,428.73 L76.43,427.02 L76.47,425.33 L76.51,423.66 L76.55,422.01 L76.59,420.39 L76.64,418.80 L76.68,417.23 L76.72,415.68 L76.77,414.16 L76.81,412.66 L76.86,411.19 L76.90,409.75 L76.95,408.32 L77.00,406.93 L77.05,405.56 L77.09,404.22 L77.14,402.90 L77.19,401.60 L77.24,400.33 L77.29,399.09 L77.34,397.87 L77.40,396.67 L77.45,395.50 L77.50,394.35 L77.56,393.23 L77.61,392.13 L77.66,391.05 L77.72,389.99 L77.78,388.95 L77.83,387.94 L77.89,386.94 L77.95,385.97 L78.00,385.01 L78.06,384.08 L78.12,383.16 L78.18,382.26 L78.24,381.38 L78.30,380.51 L78.36,379.67 L78.43,378.83 L78.49,378.02 L78.55,377.22 L78.62,376.43 L78.68,375.65 L78.74,374.89 L78.81,374.14 L78.88,373.40 L78.94,372.67 L79.01,371.95 L79.08,371.24 L79.15,370.55 L79.21,369.85 L79.28,369.17 L79.35,368.49 L79.42,367.82 L79.50,367.16 L79.57,366.50 L79.64,365.84 L79.71,365.19 L79.79,364.54 L79.86,363.89 L79.93,363.25 L80.01,362.61 L80.08,361.97 L80.16,361.33 L80.24,360.70 L80.31,360.06 L80.39,359.43 L80.47,358.81 L80.55,358.18 L80.63,357.56 L80.71,356.94 L80.79,356.32 L80.87,355.70 L80.95,355.08 L81.04,354.47 L81.12,353.85 L81.20,353.24 L81.29,352.63 L81.37,352.02 L81.46,351.41 L81.54,350.81 L81.63,350.20 L81.72,349.60 L81.80,348.99 L81.89,348.39 L81.98,347.79 L82.07,347.19 L82.16,346.59 L82.25,345.99 L82.34,345.39 L82.43,344.79 L82.52,344.19 L82.62,343.60 L82.71,343.00 L82.80,342.40 L82.90,341.81 L82.99,341.21 L83.09,340.61 L83.18,340.02 L83.28,339.42 L83.38,338.82 L83.48,338.23 L83.57,337.63 L83.67,337.03 L83.77,336.44 L83.87,335.84 L83.97,335.24 L84.07,334.64 L84.17,334.04 L84.28,333.44 L84.38,332.84 L84.48,332.24 L84.59,331.64 L84.69,331.04 L84.80,330.43 L84.90,329.83 L85.01,329.22 L85.12,328.62 L85.22,328.01 L85.33,327.40 L85.44,326.79 L85.55,326.18 L85.66,325.57 L85.77,324.96 L85.88,324.34 L85.99,323.73 L86.10,323.11 L86.21,322.49 L86.86,318.95 L87.51,315.46 L88.16,312.01 L88.81,308.63 L89.46,305.30 L90.11,302.02 L90.76,298.81 L91.41,295.66 L92.06,292.57 L92.71,289.53 L93.36,286.56 L94.01,283.65 L94.66,280.79 L95.31,277.99 L95.95,275.25 L96.60,272.56 L97.25,269.93 L97.90,267.34 L98.55,264.81 L99.20,262.33 L99.85,259.90 L100.50,257.52 L101.15,255.19 L101.80,252.90 L102.45,250.66 L103.10,248.47 L103.75,246.32 L104.40,244.22 L105.05,242.17 L105.70,240.16 L106.34,238.19 L106.99,236.27 L107.64,234.39 L108.29,232.55 L108.94,230.76 L109.59,229.00 L110.24,227.29 L110.89,225.62 L111.54,223.98 L112.19,222.38 L112.84,220.82 L113.49,219.30 L114.14,217.81 L114.79,216.36 L115.44,214.94 L116.09,213.55 L116.73,212.20 L117.38,210.88 L118.03,209.60 L118.68,208.34 L119.33,207.12 L119.98,205.93 L120.63,204.76 L121.28,203.63 L121.93,202.52 L122.58,201.44 L123.23,200.39 L123.88,199.37 L124.53,198.37 L125.18,197.40 L125.83,196.45 L126.48,195.53 L127.12,194.63 L127.77,193.76 L128.42,192.91 L129.07,192.09 L129.72,191.29 L130.37,190.51 L131.02,189.75 L131.67,189.02 L132.32,188.31 L132.97,187.61 L133.62,186.94 L134.27,186.29 L134.92,185.66 L135.57,185.05 L136.22,184.46 L136.87,183.89 L137.51,183.34 L138.16,182.80 L138.81,182.28 L139.46,181.79 L140.11,181.31 L140.76,180.84 L141.41,180.40 L142.06,179.97 L142.71,179.55 L143.36,179.16 L144.01,178.78 L144.66,178.41 L145.31,178.06 L145.96,177.73 L146.61,177.41 L147.26,177.10 L147.90,176.81 L148.55,176.54 L149.20,176.28 L149.85,176.03 L150.50,175.80 L151.15,175.58 L151.80,175.37 L152.45,175.17 L153.10,174.99 L153.75,174.83 L154.40,174.67 L155.05,174.53 L155.70,174.39 L156.35,174.27 L157.00,174.17 L157.64,174.07 L158.29,173.99 L158.94,173.91 L159.59,173.85 L160.24,173.80 L160.89,173.76 L161.54,173.73 L162.19,173.71 L162.84,173.70 L163.49,173.70 L164.14,173.71 L164.79,173.73 L165.44,173.76 L166.09,173.80 L166.74,173.85 L167.39,173.91 L168.03,173.98 L168.68,174.05 L169.33,174.14 L169.98,174.23 L170.63,174.34 L171.28,174.45 L171.93,174.57 L172.58,174.69 L173.23,174.83 L173.88,174.97 L174.53,175.12 L175.18,175.28 L175.83,175.45 L176.48,175.62 L177.13,175.80 L177.78,175.98 L178.42,176.18 L179.07,176.37 L179.72,176.58 L180.37,176.79 L181.02,177.01 L181.67,177.23 L182.32,177.46 L182.97,177.70 L183.62,177.94 L184.27,178.19 L184.92,178.44 L185.57,178.70 L186.22,178.96 L186.87,179.23 L187.52,179.50 L188.17,179.78 L188.81,180.06 L189.46,180.35 L190.11,180.64 L190.76,180.94 L191.41,181.24 L192.06,181.55 L192.71,181.86 L193.36,182.17 L194.01,182.49 L194.66,182.82 L195.31,183.14 L195.96,183.48 L196.61,183.81 L197.26,184.15 L197.91,184.49 L198.56,184.84 L199.20,185.19 L199.85,185.54 L200.50,185.90 L201.15,186.26 L201.80,186.63 L202.45,186.99 L203.10,187.36 L203.75,187.74 L204.40,188.11 L205.05,188.49 L205.70,188.88 L206.35,189.26 L207.00,189.65 L207.65,190.04 L208.30,190.44 L208.95,190.84 L209.59,191.24 L210.24,191.64 L210.89,192.04 L211.54,192.45 L212.19,192.86 L212.84,193.28 L213.49,193.69 L214.14,194.11 L214.79,194.53 L215.44,194.95 L216.09,195.38 L216.74,195.80 L217.39,196.23 L218.04,196.67 L218.69,197.10 L219.34,197.53 L219.98,197.97 L220.63,198.41 L221.28,198.85 L221.93,199.30 L222.58,199.74 L223.23,200.19 L223.88,200.64 L224.53,201.09 L225.18,201.54 L225.83,202.00 L226.48,202.45 L227.13,202.91 L227.78,203.37 L228.43,203.83 L229.08,204.30 L229.73,204.76 L230.37,205.23 L231.02,205.69 L231.67,206.16 L232.32,206.63 L232.97,207.10 L233.62,207.58 L234.27,208.05 L234.92,208.53 L235.57,209.01 L236.22,209.48 L236.87,209.96 L237.52,210.45 L238.17,210.93 L238.82,211.41 L239.47,211.90 L240.12,212.38 L240.76,212.87 L241.41,213.36 L242.06,213.85 L242.71,214.34 L243.36,214.83 L244.01,215.32 L244.66,215.81 L245.31,216.31 L245.96,216.81 L246.61,217.30 L247.26,217.80 L247.91,218.30 L248.56,218.80 L249.21,219.30 L249.86,219.80 L250.51,220.30 L251.15,220.80 L251.80,221.31 L252.45,221.81 L253.10,222.32 L253.75,222.82 L254.40,223.33 L255.05,223.83 L255.70,224.34 L256.35,224.85 L257.00,225.36 L257.65,225.86 L258.30,226.37 L258.95,226.88 L259.60,227.39 L260.25,227.90 L260.90,228.41 L261.54,228.92 L262.19,229.43 L262.84,229.94 L263.49,230.46 L264.14,230.97 L264.79,231.48 L265.44,231.99 L266.09,232.50 L266.74,233.01 L267.39,233.52 L268.04,234.04 L268.69,234.55 L269.34,235.06 L269.99,235.57 L270.64,236.08 L271.29,236.59 L271.93,237.10 L272.58,237.62 L273.23,238.13 L273.88,238.64 L274.53,239.15 L275.18,239.66 L275.83,240.17 L276.48,240.68 L277.13,241.19 L277.78,241.70 L278.43,242.20 L279.08,242.71 L279.73,243.22 L280.38,243.73 L281.03,244.24 L281.68,244.74 L282.32,245.25 L282.97,245.76 L283.62,246.26 L284.27,246.77 L284.92,247.27 L285.57,247.78 L286.22,248.28 L286.87,248.78 L287.52,249.29 L288.17,249.79 L288.82,250.29 L289.47,250.79 L290.12,251.29 L290.77,251.79 L291.42,252.29 L292.07,252.79 L292.71,253.29 L293.36,253.78 L294.01,254.28 L294.66,254.78 L295.31,255.27 L295.96,255.77 L296.61,256.26 L297.26,256.76 L297.91,257.25 L298.56,257.74 L299.21,258.23 L299.86,258.72 L300.51,259.21 L301.16,259.70 L301.81,260.19 L302.46,260.68 L303.10,261.16 L303.75,261.65 L304.40,262.14 L305.05,262.62 L305.70,263.10 L306.35,263.59 L307.00,264.07 L307.65,264.55 L308.30,265.03 L308.95,265.51 L309.60,265.99 L310.25,266.47 L310.90,266.94 L311.55,267.42 L312.20,267.89 L312.85,268.37 L313.49,268.84 L314.14,269.31 L314.79,269.79 L315.44,270.26 L316.09,270.73 L316.74,271.20 L317.39,271.66 L318.04,272.13 L318.69,272.60 L319.34,273.06 L319.99,273.53 L320.64,273.99 L321.29,274.45 L321.94,274.91 L322.59,275.38 L323.24,275.84 L323.88,276.29 L324.53,276.75 L325.18,277.21 L325.83,277.66 L326.48,278.12 L327.13,278.57 L327.78,279.03 L328.43,279.48 L329.08,279.93 L329.73,280.38 L330.38,280.83 L331.03,281.28 L331.68,281.72 L332.33,282.17 L332.98,282.61 L333.62,283.06 L334.27,283.50 L334.92,283.94 L335.57,284.38 L336.22,284.82 L336.87,285.26 L337.52,285.70 L338.17,286.14 L338.82,286.57 L339.47,287.01 L340.12,287.44 L340.77,287.88 L341.42,288.31 L342.07,288.74 L342.72,289.17 L343.37,289.60 L344.01,290.02 L344.66,290.45 L345.31,290.88 L345.96,291.30 L346.61,291.72 L347.26,292.15 L347.91,292.57 L348.56,292.99 L349.21,293.41 L349.86,293.83 L350.51,294.24 L351.16,294.66 L351.81,295.07 L352.46,295.49 L353.11,295.90 L353.76,296.31 L354.40,296.72 L355.05,297.13 L355.70,297.54 L356.35,297.95 L357.00,298.36 L357.65,298.76 L358.30,299.17 L358.95,299.57 L359.60,299.97 L360.25,300.37 L360.90,300.78 L361.55,301.17 L362.20,301.57 L362.85,301.97 L363.50,302.37 L364.15,302.76 L364.79,303.15 L365.44,303.55 L366.09,303.94 L366.74,304.33 L367.39,304.72 L368.04,305.11 L368.69,305.50 L369.34,305.88 L369.99,306.27 L370.64,306.65 L371.29,307.04 L371.94,307.42 L372.59,307.80 L373.24,308.18 L373.89,308.56 L374.54,308.94 L375.18,309.31 L375.83,309.69 L376.48,310.06 L377.13,310.44 L377.78,310.81 L378.43,311.18 L379.08,311.55 L379.73,311.92 L380.38,312.29 L381.03,312.66 L381.68,313.03 L382.33,313.39 L382.98,313.76 L383.63,314.12 L384.28,314.48 L384.93,314.84 L385.57,315.20 L386.22,315.56 L386.87,315.92 L387.52,316.28 L388.17,316.63 L388.82,316.99 L389.47,317.34 L390.12,317.69 L390.77,318.05 L391.42,318.40 L392.07,318.75 L392.72,319.09 L393.37,319.44 L394.02,319.79 L394.67,320.13 L395.32,320.48 L395.96,320.82 L396.61,321.16 L397.26,321.51 L397.91,321.85 L398.56,322.19 L399.21,322.52 L399.86,322.86 L400.51,323.20 L401.16,323.53 L401.81,323.87 L402.46,324.20 L403.11,324.53 L403.76,324.86 L404.41,325.19 L405.06,325.52 L405.71,325.85 L406.35,326.18 L407.00,326.50 L407.65,326.83 L408.30,327.15 L408.95,327.48 L409.60,327.80 L410.25,328.12 L410.90,328.44 L411.55,328.76 L412.20,329.08 L412.85,329.40 L413.50,329.71 L414.15,330.03 L414.80,330.34 L415.45,330.66 L416.10,330.97 L416.74,331.28 L417.39,331.59 L418.04,331.90 L418.69,332.21 L419.34,332.52 L419.99,332.83 L420.64,333.13 L421.29,333.44 L421.94,333.74 L422.59,334.05 L423.24,334.35 L423.89,334.65 L424.54,334.95 L425.19,335.25 L425.84,335.55 L426.49,335.85 L427.13,336.14 L427.78,336.44 L428.43,336.74 L429.08,337.03 L429.73,337.32 L430.38,337.62 L431.03,337.91 L431.68,338.20 L432.33,338.49 L432.98,338.78 L433.63,339.07 L434.28,339.35 L434.93,339.64 L435.58,339.93 L436.23,340.21 L436.88,340.50 L437.52,340.78 L438.17,341.06 L438.82,341.34 L439.47,341.62 L440.12,341.90 L440.77,342.18 L441.42,342.46 L442.07,342.74 L442.72,343.01 L443.37,343.29 L444.02,343.56 L444.67,343.84 L445.32,344.11 L445.97,344.38 L446.62,344.65 L447.27,344.92 L447.91,345.19 L448.56,345.46 L449.21,345.73 L449.86,346.00 L450.51,346.27 L451.16,346.53 L451.81,346.80 L452.46,347.06 L453.11,347.32 L453.76,347.59 L454.41,347.85 L455.06,348.11 L455.71,348.37 L456.36,348.63 L457.01,348.89 L457.66,349.15 L458.30,349.40 L458.95,349.66 L459.60,349.91 L460.25,350.17 L460.90,350.42 L461.55,350.68 L462.20,350.93 L462.85,351.18 L463.50,351.43 L464.15,351.68 L464.80,351.93 L465.45,352.18 L466.10,352.43 L466.75,352.68 L467.40,352.92 L468.05,353.17 L468.69,353.41 L469.34,353.66 L469.99,353.90 L470.64,354.14 L471.29,354.39 L471.94,354.63 L472.59,354.87 L473.24,355.11 L473.89,355.35 L474.54,355.58 L475.19,355.82 L475.84,356.06 L476.49,356.30 L477.14,356.53 L477.79,356.77 L478.44,357.00 L479.08,357.23 L479.73,357.47 L480.38,357.70 L481.03,357.93 L481.68,358.16 L482.33,358.39 L482.98,358.62 L483.63,358.85 L484.28,359.08 L484.93,359.30 L485.58,359.53 L486.23,359.75 L486.88,359.98 L487.53,360.20 L488.18,360.43 L488.83,360.65 L489.47,360.87 L490.12,361.09 L490.77,361.32 L491.42,361.54 L492.07,361.76 L492.72,361.97 L493.37,362.19 L494.02,362.41 L494.67,362.63 L495.32,362.84 L495.97,363.06 L496.62,363.27 L497.27,363.49 L497.92,363.70 L498.57,363.92 L499.21,364.13 L499.86,364.34 L500.51,364.55 L501.16,364.76 L501.81,364.97 L502.46,365.18 L503.11,365.39 L503.76,365.60 L504.41,365.80 L505.06,366.01 L505.71,366.22 L506.36,366.42 L507.01,366.63 L507.66,366.83 L508.31,367.04 L508.96,367.24 L509.60,367.44 L510.25,367.64 L510.90,367.84 L511.55,368.04 L512.20,368.24 L512.85,368.44 L513.50,368.64 L514.15,368.84 L514.80,369.04 L515.45,369.23 L516.10,369.43 L516.75,369.62 L517.40,369.82 L518.05,370.01 L518.70,370.21 L519.35,370.40 L519.99,370.59 L520.64,370.79 L521.29,370.98 L521.94,371.17 L522.59,371.36 L523.24,371.55 L523.89,371.74 L524.54,371.92 L525.19,372.11 L525.84,372.30 L526.49,372.49 L527.14,372.67 L527.79,372.86 L528.44,373.04 L529.09,373.23 L529.74,373.41 L530.38,373.59 L531.03,373.78 L531.68,373.96 L532.33,374.14 L532.98,374.32 L533.63,374.50 L534.28,374.68 L534.93,374.86 L535.58,375.04 L536.23,375.22 L536.88,375.40 L537.53,375.57 L538.18,375.75 L538.83,375.93 L539.48,376.10 L540.13,376.28 L540.77,376.45 L541.42,376.62 L542.07,376.80 L542.72,376.97 L543.37,377.14 L544.02,377.31 L544.67,377.48 L545.32,377.66 L545.97,377.83 L546.62,377.99 L547.27,378.16 L547.92,378.33 L548.57,378.50 L549.22,378.67 L549.87,378.83 L550.52,379.00 L551.16,379.17 L551.81,379.33 L552.46,379.50 L553.11,379.66 L553.76,379.82 L554.41,379.99 L555.06,380.15 L555.71,380.31 L556.36,380.47 L557.01,380.63 L557.66,380.80 L558.31,380.96 L558.96,381.12 L559.61,381.27 L560.26,381.43 L560.91,381.59 L561.55,381.75 L562.20,381.91 L562.85,382.06 L563.50,382.22 L564.15,382.37 L564.80,382.53 L565.45,382.68 L566.10,382.84 L566.75,382.99 L567.40,383.14 L568.05,383.30 L568.70,383.45 L569.35,383.60 L570.00,383.75 L570.65,383.90 L571.30,384.05 L571.94,384.20 L572.59,384.35 L573.24,384.50 L573.89,384.65 L574.54,384.80 L575.19,384.94 L575.84,385.09 L576.49,385.24 L577.14,385.38 L577.79,385.53 L578.44,385.67 L579.09,385.82 L579.74,385.96 L580.39,386.10 L581.04,386.25 L581.69,386.39 L582.33,386.53 L582.98,386.67 L583.63,386.81 L584.28,386.95 L584.93,387.10 L585.58,387.23 L586.23,387.37 L586.88,387.51 L587.53,387.65 L588.18,387.79 L588.83,387.93 L589.48,388.06 L590.13,388.20 L590.78,388.34 L591.43,388.47 L592.08,388.61 L592.72,388.74 L593.37,388.88 L594.02,389.01 L594.67,389.14 L595.32,389.28 L595.97,389.41 L596.62,389.54 L597.27,389.67 L597.92,389.80 L598.57,389.94 L599.22,390.07 L599.87,390.20 L600.52,390.33 L601.17,390.45 L601.82,390.58 L602.47,390.71 L603.11,390.84 L603.76,390.97 L604.41,391.09 L605.06,391.22 L605.71,391.35 L606.36,391.47 L607.01,391.60 L607.66,391.72 L608.31,391.85 L608.96,391.97 L609.61,392.09 L610.26,392.22 L610.91,392.34 L611.56,392.46 L612.21,392.58 L612.86,392.71 L613.50,392.83 L614.15,392.95 L614.80,393.07 L615.45,393.19 L616.10,393.31 L616.75,393.43 L617.40,393.54 L618.05,393.66 L618.70,393.78 L619.35,393.90 L620.00,394.01 L620.65,394.13 L621.30,394.25 L621.95,394.36 L622.60,394.48 L623.25,394.59 L623.89,394.71 L624.54,394.82 L625.19,394.94 L625.84,395.05 L626.49,395.16 L627.14,395.27 L627.79,395.39 L628.44,395.50 L629.09,395.61 L629.74,395.72 L630.39,395.83 L631.04,395.94 L631.69,396.05 L632.34,396.16 L632.99,396.27 L633.64,396.38 L634.28,396.49 L634.93,396.59 L635.58,396.70 L636.23,396.81 L636.88,396.92 L637.53,397.02 L638.18,397.13 L638.83,397.23 L639.48,397.34 L640.13,397.44 L640.78,397.55 L641.43,397.65 L642.08,397.76 L642.73,397.86 L643.38,397.96 L644.03,398.07 L644.67,398.17 L645.32,398.27 L645.97,398.37 L646.62,398.47 L647.27,398.57 L647.92,398.67 L648.57,398.77 L649.22,398.87 L649.87,398.97 L650.52,399.07 L651.17,399.17 L651.82,399.27 L652.47,399.37 L653.12,399.46 L653.77,399.56 L654.42,399.66 L655.06,399.75 L655.71,399.85 L656.36,399.95 L657.01,400.04 L657.66,400.14 L658.31,400.23 L658.96,400.33 L659.61,400.42 L660.26,400.51 L660.91,400.61 L661.56,400.70 L662.21,400.79 L662.86,400.88 L663.51,400.98 L664.16,401.07 L664.81,401.16 L665.45,401.25 L666.10,401.34 L666.75,401.43 L667.40,401.52 L668.05,401.61 L668.70,401.70 L669.35,401.79 L670.00,401.88" fill="none" stroke="#dfb128" stroke-width="1.8" stroke-linejoin="round" stroke-linecap="round"/>
<path d="M75.92,453.00 L75.95,451.48 L75.99,449.95 L76.02,448.43 L76.05,446.93 L76.09,445.45 L76.12,443.99 L76.16,442.55 L76.20,441.14 L76.23,439.74 L76.27,438.37 L76.31,437.01 L76.35,435.69 L76.39,434.38 L76.43,433.10 L76.47,431.85 L76.51,430.62 L76.55,429.42 L76.59,428.24 L76.64,427.08 L76.68,425.95 L76.72,424.85 L76.77,423.77 L76.81,422.72 L76.86,421.70 L76.90,420.70 L76.95,419.72 L77.00,418.77 L77.05,417.84 L77.09,416.94 L77.14,416.07 L77.19,415.21 L77.24,414.38 L77.29,413.58 L77.34,412.79 L77.40,412.03 L77.45,411.29 L77.50,410.58 L77.56,409.88 L77.61,409.21 L77.66,408.55 L77.72,407.91 L77.78,407.29 L77.83,406.69 L77.89,406.11 L77.95,405.55 L78.00,405.00 L78.06,404.46 L78.12,403.94 L78.18,403.44 L78.24,402.95 L78.30,402.47 L78.36,402.00 L78.43,401.55 L78.49,401.11 L78.55,400.67 L78.62,400.25 L78.68,399.83 L78.74,399.42 L78.81,399.02 L78.88,398.62 L78.94,398.23 L79.01,397.84 L79.08,397.46 L79.15,397.08 L79.21,396.71 L79.28,396.33 L79.35,395.96 L79.42,395.58 L79.50,395.21 L79.57,394.83 L79.64,394.45 L79.71,394.07 L79.79,393.69 L79.86,393.30 L79.93,392.90 L80.01,392.51 L80.08,392.11 L80.16,391.70 L80.24,391.29 L80.31,390.88 L80.39,390.47 L80.47,390.05 L80.55,389.63 L80.63,389.20 L80.71,388.78 L80.79,388.35 L80.87,387.91 L80.95,387.48 L81.04,387.04 L81.12,386.59 L81.20,386.15 L81.29,385.70 L81.37,385.25 L81.46,384.79 L81.54,384.34 L81.63,383.88 L81.72,383.42 L81.80,382.95 L81.89,382.48 L81.98,382.02 L82.07,381.55 L82.16,381.07 L82.25,380.60 L82.34,380.12 L82.43,379.64 L82.52,379.16 L82.62,378.68 L82.71,378.19 L82.80,377.70 L82.90,377.21 L82.99,376.72 L83.09,376.23 L83.18,375.74 L83.28,375.24 L83.38,374.74 L83.48,374.25 L83.57,373.75 L83.67,373.24 L83.77,372.74 L83.87,372.24 L83.97,371.73 L84.07,371.23 L84.17,370.72 L84.28,370.21 L84.38,369.70 L84.48,369.19 L84.59,368.68 L84.69,368.16 L84.80,367.65 L84.90,367.14 L85.01,366.62 L85.12,366.10 L85.22,365.59 L85.33,365.07 L85.44,364.55 L85.55,364.03 L85.66,363.51 L85.77,362.99 L85.88,362.47 L85.99,361.95 L86.10,361.43 L86.21,360.91 L86.86,357.93 L87.51,355.03 L88.16,352.20 L88.81,349.44 L89.46,346.74 L90.11,344.11 L90.76,341.53 L91.41,339.02 L92.06,336.55 L92.71,334.14 L93.36,331.78 L94.01,329.47 L94.66,327.20 L95.31,324.98 L95.95,322.80 L96.60,320.67 L97.25,318.57 L97.90,316.52 L98.55,314.50 L99.20,312.51 L99.85,310.57 L100.50,308.65 L101.15,306.77 L101.80,304.92 L102.45,303.11 L103.10,301.33 L103.75,299.58 L104.40,297.86 L105.05,296.18 L105.70,294.52 L106.34,292.90 L106.99,291.31 L107.64,289.75 L108.29,288.21 L108.94,286.71 L109.59,285.23 L110.24,283.79 L110.89,282.37 L111.54,280.97 L112.19,279.60 L112.84,278.26 L113.49,276.95 L114.14,275.66 L114.79,274.39 L115.44,273.15 L116.09,271.93 L116.73,270.74 L117.38,269.56 L118.03,268.41 L118.68,267.29 L119.33,266.18 L119.98,265.09 L120.63,264.03 L121.28,262.98 L121.93,261.96 L122.58,260.95 L123.23,259.97 L123.88,259.00 L124.53,258.05 L125.18,257.12 L125.83,256.21 L126.48,255.32 L127.12,254.44 L127.77,253.58 L128.42,252.74 L129.07,251.92 L129.72,251.11 L130.37,250.32 L131.02,249.55 L131.67,248.79 L132.32,248.05 L132.97,247.33 L133.62,246.62 L134.27,245.93 L134.92,245.25 L135.57,244.59 L136.22,243.95 L136.87,243.32 L137.51,242.70 L138.16,242.10 L138.81,241.51 L139.46,240.94 L140.11,240.38 L140.76,239.84 L141.41,239.31 L142.06,238.79 L142.71,238.29 L143.36,237.80 L144.01,237.32 L144.66,236.85 L145.31,236.40 L145.96,235.96 L146.61,235.54 L147.26,235.12 L147.90,234.72 L148.55,234.33 L149.20,233.95 L149.85,233.59 L150.50,233.23 L151.15,232.89 L151.80,232.56 L152.45,232.23 L153.10,231.92 L153.75,231.62 L154.40,231.34 L155.05,231.06 L155.70,230.79 L156.35,230.53 L157.00,230.28 L157.64,230.05 L158.29,229.82 L158.94,229.60 L159.59,229.39 L160.24,229.19 L160.89,229.00 L161.54,228.82 L162.19,228.65 L162.84,228.49 L163.49,228.34 L164.14,228.19 L164.79,228.06 L165.44,227.93 L166.09,227.81 L166.74,227.70 L167.39,227.60 L168.03,227.51 L168.68,227.43 L169.33,227.35 L169.98,227.28 L170.63,227.22 L171.28,227.16 L171.93,227.11 L172.58,227.07 L173.23,227.04 L173.88,227.02 L174.53,227.00 L175.18,226.98 L175.83,226.98 L176.48,226.98 L177.13,226.98 L177.78,227.00 L178.42,227.01 L179.07,227.04 L179.72,227.07 L180.37,227.11 L181.02,227.15 L181.67,227.19 L182.32,227.25 L182.97,227.30 L183.62,227.37 L184.27,227.43 L184.92,227.51 L185.57,227.58 L186.22,227.67 L186.87,227.75 L187.52,227.85 L188.17,227.94 L188.81,228.04 L189.46,228.15 L190.11,228.26 L190.76,228.37 L191.41,228.49 L192.06,228.61 L192.71,228.74 L193.36,228.87 L194.01,229.00 L194.66,229.14 L195.31,229.28 L195.96,229.43 L196.61,229.57 L197.26,229.73 L197.91,229.88 L198.56,230.04 L199.20,230.20 L199.85,230.37 L200.50,230.54 L201.15,230.71 L201.80,230.89 L202.45,231.06 L203.10,231.25 L203.75,231.43 L204.40,231.62 L205.05,231.81 L205.70,232.00 L206.35,232.20 L207.00,232.40 L207.65,232.60 L208.30,232.80 L208.95,233.01 L209.59,233.22 L210.24,233.43 L210.89,233.64 L211.54,233.86 L212.19,234.08 L212.84,234.30 L213.49,234.53 L214.14,234.75 L214.79,234.98 L215.44,235.21 L216.09,235.44 L216.74,235.68 L217.39,235.92 L218.04,236.16 L218.69,236.40 L219.34,236.64 L219.98,236.88 L220.63,237.13 L221.28,237.38 L221.93,237.63 L222.58,237.88 L223.23,238.14 L223.88,238.40 L224.53,238.65 L225.18,238.91 L225.83,239.18 L226.48,239.44 L227.13,239.70 L227.78,239.97 L228.43,240.24 L229.08,240.51 L229.73,240.78 L230.37,241.05 L231.02,241.33 L231.67,241.60 L232.32,241.88 L232.97,242.16 L233.62,242.44 L234.27,242.72 L234.92,243.00 L235.57,243.29 L236.22,243.57 L236.87,243.86 L237.52,244.15 L238.17,244.44 L238.82,244.73 L239.47,245.02 L240.12,245.31 L240.76,245.60 L241.41,245.90 L242.06,246.20 L242.71,246.49 L243.36,246.79 L244.01,247.09 L244.66,247.39 L245.31,247.70 L245.96,248.00 L246.61,248.30 L247.26,248.61 L247.91,248.91 L248.56,249.22 L249.21,249.53 L249.86,249.84 L250.51,250.15 L251.15,250.46 L251.80,250.77 L252.45,251.08 L253.10,251.39 L253.75,251.71 L254.40,252.02 L255.05,252.34 L255.70,252.65 L256.35,252.97 L257.00,253.29 L257.65,253.61 L258.30,253.93 L258.95,254.24 L259.60,254.56 L260.25,254.89 L260.90,255.21 L261.54,255.53 L262.19,255.85 L262.84,256.17 L263.49,256.50 L264.14,256.82 L264.79,257.15 L265.44,257.47 L266.09,257.80 L266.74,258.12 L267.39,258.45 L268.04,258.77 L268.69,259.10 L269.34,259.43 L269.99,259.76 L270.64,260.08 L271.29,260.41 L271.93,260.74 L272.58,261.07 L273.23,261.40 L273.88,261.73 L274.53,262.06 L275.18,262.39 L275.83,262.72 L276.48,263.05 L277.13,263.38 L277.78,263.71 L278.43,264.04 L279.08,264.37 L279.73,264.70 L280.38,265.04 L281.03,265.37 L281.68,265.70 L282.32,266.03 L282.97,266.36 L283.62,266.70 L284.27,267.03 L284.92,267.36 L285.57,267.69 L286.22,268.03 L286.87,268.36 L287.52,268.69 L288.17,269.03 L288.82,269.36 L289.47,269.69 L290.12,270.02 L290.77,270.36 L291.42,270.69 L292.07,271.02 L292.71,271.36 L293.36,271.69 L294.01,272.02 L294.66,272.35 L295.31,272.69 L295.96,273.02 L296.61,273.35 L297.26,273.68 L297.91,274.02 L298.56,274.35 L299.21,274.68 L299.86,275.01 L300.51,275.35 L301.16,275.68 L301.81,276.01 L302.46,276.34 L303.10,276.67 L303.75,277.01 L304.40,277.34 L305.05,277.67 L305.70,278.00 L306.35,278.33 L307.00,278.66 L307.65,278.99 L308.30,279.32 L308.95,279.65 L309.60,279.98 L310.25,280.31 L310.90,280.64 L311.55,280.97 L312.20,281.30 L312.85,281.63 L313.49,281.96 L314.14,282.29 L314.79,282.62 L315.44,282.95 L316.09,283.27 L316.74,283.60 L317.39,283.93 L318.04,284.26 L318.69,284.58 L319.34,284.91 L319.99,285.24 L320.64,285.56 L321.29,285.89 L321.94,286.22 L322.59,286.54 L323.24,286.87 L323.88,287.19 L324.53,287.52 L325.18,287.84 L325.83,288.17 L326.48,288.49 L327.13,288.81 L327.78,289.14 L328.43,289.46 L329.08,289.78 L329.73,290.11 L330.38,290.43 L331.03,290.75 L331.68,291.07 L332.33,291.39 L332.98,291.72 L333.62,292.04 L334.27,292.36 L334.92,292.68 L335.57,293.00 L336.22,293.32 L336.87,293.64 L337.52,293.95 L338.17,294.27 L338.82,294.59 L339.47,294.91 L340.12,295.23 L340.77,295.54 L341.42,295.86 L342.07,296.18 L342.72,296.49 L343.37,296.81 L344.01,297.12 L344.66,297.44 L345.31,297.75 L345.96,298.07 L346.61,298.38 L347.26,298.69 L347.91,299.01 L348.56,299.32 L349.21,299.63 L349.86,299.95 L350.51,300.26 L351.16,300.57 L351.81,300.88 L352.46,301.19 L353.11,301.50 L353.76,301.81 L354.40,302.12 L355.05,302.43 L355.70,302.74 L356.35,303.05 L357.00,303.35 L357.65,303.66 L358.30,303.97 L358.95,304.28 L359.60,304.58 L360.25,304.89 L360.90,305.19 L361.55,305.50 L362.20,305.80 L362.85,306.11 L363.50,306.41 L364.15,306.72 L364.79,307.02 L365.44,307.32 L366.09,307.63 L366.74,307.93 L367.39,308.23 L368.04,308.53 L368.69,308.83 L369.34,309.13 L369.99,309.43 L370.64,309.73 L371.29,310.03 L371.94,310.33 L372.59,310.63 L373.24,310.93 L373.89,311.22 L374.54,311.52 L375.18,311.82 L375.83,312.11 L376.48,312.41 L377.13,312.71 L377.78,313.00 L378.43,313.30 L379.08,313.59 L379.73,313.88 L380.38,314.18 L381.03,314.47 L381.68,314.76 L382.33,315.06 L382.98,315.35 L383.63,315.64 L384.28,315.93 L384.93,316.22 L385.57,316.51 L386.22,316.80 L386.87,317.09 L387.52,317.38 L388.17,317.67 L388.82,317.96 L389.47,318.24 L390.12,318.53 L390.77,318.82 L391.42,319.10 L392.07,319.39 L392.72,319.67 L393.37,319.96 L394.02,320.24 L394.67,320.53 L395.32,320.81 L395.96,321.10 L396.61,321.38 L397.26,321.66 L397.91,321.94 L398.56,322.23 L399.21,322.51 L399.86,322.79 L400.51,323.07 L401.16,323.35 L401.81,323.63 L402.46,323.91 L403.11,324.19 L403.76,324.46 L404.41,324.74 L405.06,325.02 L405.71,325.30 L406.35,325.57 L407.00,325.85 L407.65,326.12 L408.30,326.40 L408.95,326.67 L409.60,326.95 L410.25,327.22 L410.90,327.49 L411.55,327.77 L412.20,328.04 L412.85,328.31 L413.50,328.58 L414.15,328.85 L414.80,329.12 L415.45,329.39 L416.10,329.66 L416.74,329.93 L417.39,330.20 L418.04,330.47 L418.69,330.74 L419.34,331.00 L419.99,331.27 L420.64,331.54 L421.29,331.80 L421.94,332.07 L422.59,332.33 L423.24,332.59 L423.89,332.86 L424.54,333.12 L425.19,333.38 L425.84,333.65 L426.49,333.91 L427.13,334.17 L427.78,334.43 L428.43,334.69 L429.08,334.95 L429.73,335.21 L430.38,335.47 L431.03,335.72 L431.68,335.98 L432.33,336.24 L432.98,336.50 L433.63,336.75 L434.28,337.01 L434.93,337.26 L435.58,337.52 L436.23,337.77 L436.88,338.02 L437.52,338.28 L438.17,338.53 L438.82,338.78 L439.47,339.03 L440.12,339.28 L440.77,339.53 L441.42,339.78 L442.07,340.03 L442.72,340.28 L443.37,340.53 L444.02,340.78 L444.67,341.03 L445.32,341.27 L445.97,341.52 L446.62,341.76 L447.27,342.01 L447.91,342.25 L448.56,342.50 L449.21,342.74 L449.86,342.98 L450.51,343.23 L451.16,343.47 L451.81,343.71 L452.46,343.95 L453.11,344.19 L453.76,344.43 L454.41,344.67 L455.06,344.91 L455.71,345.15 L456.36,345.39 L457.01,345.62 L457.66,345.86 L458.30,346.10 L458.95,346.33 L459.60,346.57 L460.25,346.80 L460.90,347.04 L461.55,347.27 L462.20,347.50 L462.85,347.74 L463.50,347.97 L464.15,348.20 L464.80,348.43 L465.45,348.66 L466.10,348.89 L466.75,349.12 L467.40,349.35 L468.05,349.58 L468.69,349.80 L469.34,350.03 L469.99,350.26 L470.64,350.48 L471.29,350.71 L471.94,350.93 L472.59,351.16 L473.24,351.38 L473.89,351.61 L474.54,351.83 L475.19,352.05 L475.84,352.27 L476.49,352.50 L477.14,352.72 L477.79,352.94 L478.44,353.16 L479.08,353.38 L479.73,353.59 L480.38,353.81 L481.03,354.03 L481.68,354.25 L482.33,354.46 L482.98,354.68 L483.63,354.89 L484.28,355.11 L484.93,355.32 L485.58,355.54 L486.23,355.75 L486.88,355.96 L487.53,356.18 L488.18,356.39 L488.83,356.60 L489.47,356.81 L490.12,357.02 L490.77,357.23 L491.42,357.44 L492.07,357.65 L492.72,357.86 L493.37,358.06 L494.02,358.27 L494.67,358.48 L495.32,358.68 L495.97,358.89 L496.62,359.09 L497.27,359.30 L497.92,359.50 L498.57,359.70 L499.21,359.91 L499.86,360.11 L500.51,360.31 L501.16,360.51 L501.81,360.71 L502.46,360.91 L503.11,361.11 L503.76,361.31 L504.41,361.51 L505.06,361.71 L505.71,361.91 L506.36,362.10 L507.01,362.30 L507.66,362.49 L508.31,362.69 L508.96,362.89 L509.60,363.08 L510.25,363.27 L510.90,363.47 L511.55,363.66 L512.20,363.85 L512.85,364.04 L513.50,364.23 L514.15,364.43 L514.80,364.62 L515.45,364.81 L516.10,364.99 L516.75,365.18 L517.40,365.37 L518.05,365.56 L518.70,365.75 L519.35,365.93 L519.99,366.12 L520.64,366.30 L521.29,366.49 L521.94,366.67 L522.59,366.86 L523.24,367.04 L523.89,367.22 L524.54,367.41 L525.19,367.59 L525.84,367.77 L526.49,367.95 L527.14,368.13 L527.79,368.31 L528.44,368.49 L529.09,368.67 L529.74,368.85 L530.38,369.02 L531.03,369.20 L531.68,369.38 L532.33,369.55 L532.98,369.73 L533.63,369.91 L534.28,370.08 L534.93,370.26 L535.58,370.43 L536.23,370.60 L536.88,370.77 L537.53,370.95 L538.18,371.12 L538.83,371.29 L539.48,371.46 L540.13,371.63 L540.77,371.80 L541.42,371.97 L542.07,372.14 L542.72,372.31 L543.37,372.47 L544.02,372.64 L544.67,372.81 L545.32,372.97 L545.97,373.14 L546.62,373.31 L547.27,373.47 L547.92,373.63 L548.57,373.80 L549.22,373.96 L549.87,374.12 L550.52,374.29 L551.16,374.45 L551.81,374.61 L552.46,374.77 L553.11,374.93 L553.76,375.09 L554.41,375.25 L555.06,375.41 L555.71,375.57 L556.36,375.72 L557.01,375.88 L557.66,376.04 L558.31,376.19 L558.96,376.35 L559.61,376.51 L560.26,376.66 L560.91,376.82 L561.55,376.97 L562.20,377.12 L562.85,377.28 L563.50,377.43 L564.15,377.58 L564.80,377.73 L565.45,377.88 L566.10,378.03 L566.75,378.18 L567.40,378.33 L568.05,378.48 L568.70,378.63 L569.35,378.78 L570.00,378.93 L570.65,379.07 L571.30,379.22 L571.94,379.37 L572.59,379.51 L573.24,379.66 L573.89,379.80 L574.54,379.95 L575.19,380.09 L575.84,380.23 L576.49,380.38 L577.14,380.52 L577.79,380.66 L578.44,380.80 L579.09,380.94 L579.74,381.08 L580.39,381.22 L581.04,381.36 L581.69,381.50 L582.33,381.64 L582.98,381.78 L583.63,381.92 L584.28,382.05 L584.93,382.19 L585.58,382.33 L586.23,382.46 L586.88,382.60 L587.53,382.73 L588.18,382.87 L588.83,383.00 L589.48,383.13 L590.13,383.27 L590.78,383.40 L591.43,383.53 L592.08,383.66 L592.72,383.80 L593.37,383.93 L594.02,384.06 L594.67,384.19 L595.32,384.32 L595.97,384.44 L596.62,384.57 L597.27,384.70 L597.92,384.83 L598.57,384.96 L599.22,385.08 L599.87,385.21 L600.52,385.33 L601.17,385.46 L601.82,385.58 L602.47,385.71 L603.11,385.83 L603.76,385.96 L604.41,386.08 L605.06,386.20 L605.71,386.32 L606.36,386.45 L607.01,386.57 L607.66,386.69 L608.31,386.81 L608.96,386.93 L609.61,387.05 L610.26,387.17 L610.91,387.29 L611.56,387.40 L612.21,387.52 L612.86,387.64 L613.50,387.76 L614.15,387.87 L614.80,387.99 L615.45,388.10 L616.10,388.22 L616.75,388.33 L617.40,388.45 L618.05,388.56 L618.70,388.68 L619.35,388.79 L620.00,388.90 L620.65,389.01 L621.30,389.12 L621.95,389.24 L622.60,389.35 L623.25,389.46 L623.89,389.57 L624.54,389.68 L625.19,389.79 L625.84,389.89 L626.49,390.00 L627.14,390.11 L627.79,390.22 L628.44,390.32 L629.09,390.43 L629.74,390.54 L630.39,390.64 L631.04,390.75 L631.69,390.85 L632.34,390.96 L632.99,391.06 L633.64,391.16 L634.28,391.27 L634.93,391.37 L635.58,391.47 L636.23,391.57 L636.88,391.68 L637.53,391.78 L638.18,391.88 L638.83,391.98 L639.48,392.08 L640.13,392.18 L640.78,392.28 L641.43,392.37 L642.08,392.47 L642.73,392.57 L643.38,392.67 L644.03,392.76 L644.67,392.86 L645.32,392.96 L645.97,393.05 L646.62,393.15 L647.27,393.24 L647.92,393.34 L648.57,393.43 L649.22,393.52 L649.87,393.62 L650.52,393.71 L651.17,393.80 L651.82,393.89 L652.47,393.99 L653.12,394.08 L653.77,394.17 L654.42,394.26 L655.06,394.35 L655.71,394.44 L656.36,394.53 L657.01,394.62 L657.66,394.70 L658.31,394.79 L658.96,394.88 L659.61,394.97 L660.26,395.05 L660.91,395.14 L661.56,395.23 L662.21,395.31 L662.86,395.40 L663.51,395.48 L664.16,395.57 L664.81,395.65 L665.45,395.73 L666.10,395.82 L666.75,395.90 L667.40,395.98 L668.05,396.06 L668.70,396.14 L669.35,396.23 L670.00,396.31" fill="none" stroke="#762d86" stroke-width="1.8" stroke-linejoin="round" stroke-linecap="round"/>
<line x1="74.3" y1="495.0" x2="74.3" y2="489.0" stroke="#262626" stroke-width="1.4"/>
<line x1="74.3" y1="24.5" x2="74.3" y2="30.5" stroke="#262626" stroke-width="1.4"/>
<line x1="134.5" y1="495.0" x2="134.5" y2="489.0" stroke="#262626" stroke-width="1.4"/>
<line x1="134.5" y1="24.5" x2="134.5" y2="30.5" stroke="#262626" stroke-width="1.4"/>
<line x1="193.5" y1="495.0" x2="193.5" y2="489.0" stroke="#262626" stroke-width="1.4"/>
<line x1="193.5" y1="24.5" x2="193.5" y2="30.5" stroke="#262626" stroke-width="1.4"/>
<line x1="253.5" y1="495.0" x2="253.5" y2="489.0" stroke="#262626" stroke-width="1.4"/>
<line x1="253.5" y1="24.5" x2="253.5" y2="30.5" stroke="#262626" stroke-width="1.4"/>
<line x1="312.6" y1="495.0" x2="312.6" y2="489.0" stroke="#262626" stroke-width="1.4"/>
<line x1="312.6" y1="24.5" x2="312.6" y2="30.5" stroke="#262626" stroke-width="1.4"/>
<line x1="371.5" y1="495.0" x2="371.5" y2="489.0" stroke="#262626" stroke-width="1.4"/>
<line x1="371.5" y1="24.5" x2="371.5" y2="30.5" stroke="#262626" stroke-width="1.4"/>
<line x1="431.7" y1="495.0" x2="431.7" y2="489.0" stroke="#262626" stroke-width="1.4"/>
<line x1="431.7" y1="24.5" x2="431.7" y2="30.5" stroke="#262626" stroke-width="1.4"/>
<line x1="490.8" y1="495.0" x2="490.8" y2="489.0" stroke="#262626" stroke-width="1.4"/>
<line x1="490.8" y1="24.5" x2="490.8" y2="30.5" stroke="#262626" stroke-width="1.4"/>
<line x1="551.1" y1="495.0" x2="551.1" y2="489.0" stroke="#262626" stroke-width="1.4"/>
<line x1="551.1" y1="24.5" x2="551.1" y2="30.5" stroke="#262626" stroke-width="1.4"/>
<line x1="610.0" y1="495.0" x2="610.0" y2="489.0" stroke="#262626" stroke-width="1.4"/>
<line x1="610.0" y1="24.5" x2="610.0" y2="30.5" stroke="#262626" stroke-width="1.4"/>
<line x1="670.0" y1="495.0" x2="670.0" y2="489.0" stroke="#262626" stroke-width="1.4"/>
<line x1="670.0" y1="24.5" x2="670.0" y2="30.5" stroke="#262626" stroke-width="1.4"/>
<line x1="74.3" y1="495.0" x2="80.3" y2="495.0" stroke="#262626" stroke-width="1.4"/>
<line x1="670.0" y1="495.0" x2="664.0" y2="495.0" stroke="#262626" stroke-width="1.4"/>
<line x1="74.3" y1="415.9" x2="80.3" y2="415.9" stroke="#262626" stroke-width="1.4"/>
<line x1="670.0" y1="415.9" x2="664.0" y2="415.9" stroke="#262626" stroke-width="1.4"/>
<line x1="74.3" y1="337.9" x2="80.3" y2="337.9" stroke="#262626" stroke-width="1.4"/>
<line x1="670.0" y1="337.9" x2="664.0" y2="337.9" stroke="#262626" stroke-width="1.4"/>
<line x1="74.3" y1="259.9" x2="80.3" y2="259.9" stroke="#262626" stroke-width="1.4"/>
<line x1="670.0" y1="259.9" x2="664.0" y2="259.9" stroke="#262626" stroke-width="1.4"/>
<line x1="74.3" y1="181.6" x2="80.3" y2="181.6" stroke="#262626" stroke-width="1.4"/>
<line x1="670.0" y1="181.6" x2="664.0" y2="181.6" stroke="#262626" stroke-width="1.4"/>
<line x1="74.3" y1="103.6" x2="80.3" y2="103.6" stroke="#262626" stroke-width="1.4"/>
<line x1="670.0" y1="103.6" x2="664.0" y2="103.6" stroke="#262626" stroke-width="1.4"/>
<line x1="74.3" y1="24.5" x2="80.3" y2="24.5" stroke="#262626" stroke-width="1.4"/>
<line x1="670.0" y1="24.5" x2="664.0" y2="24.5" stroke="#262626" stroke-width="1.4"/>
<rect x="74.3" y="24.5" width="595.70" height="470.50" fill="none" stroke="#262626" stroke-width="1.5"/>
<text x="74.30" y="520.4" text-anchor="middle" font-size="17">0</text>
<text x="134.50" y="520.4" text-anchor="middle" font-size="17">10</text>
<text x="193.50" y="520.4" text-anchor="middle" font-size="17">20</text>
<text x="253.50" y="520.4" text-anchor="middle" font-size="17">30</text>
<text x="312.60" y="520.4" text-anchor="middle" font-size="17">40</text>
<text x="371.50" y="520.4" text-anchor="middle" font-size="17">50</text>
<text x="431.70" y="520.4" text-anchor="middle" font-size="17">60</text>
<text x="490.80" y="520.4" text-anchor="middle" font-size="17">70</text>
<text x="551.10" y="520.4" text-anchor="middle" font-size="17">80</text>
<text x="610.00" y="520.4" text-anchor="middle" font-size="17">90</text>
<text x="670.00" y="520.4" text-anchor="middle" font-size="17">100</text>
<text x="66.6" y="503.20" text-anchor="end" font-size="17">0</text>
<text x="66.6" y="424.10" text-anchor="end" font-size="17">0.5</text>
<text x="66.6" y="346.10" text-anchor="end" font-size="17">1</text>
<text x="66.6" y="268.10" text-anchor="end" font-size="17">1.5</text>
<text x="66.6" y="189.80" text-anchor="end" font-size="17">2</text>
<text x="66.6" y="111.80" text-anchor="end" font-size="17">2.5</text>
<text x="66.6" y="32.70" text-anchor="end" font-size="17">3</text>
<path d="M78.4,12.6 L85.6,20.2 M85.6,12.6 L78.4,20.2" stroke="#3a3a3a" stroke-width="1.05" fill="none"/>
<text x="90.3" y="20.4" font-size="17">10</text>
<text x="110.3" y="12.3" font-size="13.5">4</text>
<text x="371.6" y="549.2" text-anchor="middle" font-size="20.2" letter-spacing="0.2">Time (days)</text>
<text transform="translate(23,365.8) rotate(-90)" font-size="20.2" letter-spacing="0.17">Comparison of I</text>
<text transform="translate(13.9,220.6) rotate(-90)" font-size="16">C</text>
<text transform="translate(23,203.6) rotate(-90)" font-size="20.2">for</text>
<text transform="translate(23,172.2) rotate(-90) scale(0.72,1)" font-size="19" font-style="italic">ρ</text>
<text transform="translate(32.2,162.6) rotate(-90)" font-size="14">2</text>
<rect x="504.6" y="42.5" width="148.0" height="126.3" fill="#fff" stroke="#262626" stroke-width="1.3"/>
<line x1="515.2" y1="60.8" x2="571.8" y2="60.8" stroke="#2a86d6" stroke-width="1.8"/>
<text x="576.6" y="64.9" font-size="16" font-style="italic" fill="#4a4a4a" style="fill:#4a4a4a">ρ</text>
<text x="585.2" y="73.0" font-size="12.6">2</text>
<text x="594.2" y="64.9" font-size="16.6">=0.065</text>
<line x1="515.2" y1="90.8" x2="571.8" y2="90.8" stroke="#e8663a" stroke-width="1.8"/>
<text x="576.6" y="94.9" font-size="16" font-style="italic" fill="#4a4a4a" style="fill:#4a4a4a">ρ</text>
<text x="585.2" y="103.0" font-size="12.6">2</text>
<text x="594.2" y="94.9" font-size="16.6">=0.3</text>
<line x1="515.2" y1="120.8" x2="571.8" y2="120.8" stroke="#f0a83a" stroke-width="1.8"/>
<text x="576.6" y="124.9" font-size="16" font-style="italic" fill="#4a4a4a" style="fill:#4a4a4a">ρ</text>
<text x="585.2" y="133.0" font-size="12.6">2</text>
<text x="594.2" y="124.9" font-size="16.6">=0.6</text>
<line x1="515.2" y1="150.8" x2="571.8" y2="150.8" stroke="#8e52b8" stroke-width="1.8"/>
<text x="576.6" y="154.9" font-size="16" font-style="italic" fill="#4a4a4a" style="fill:#4a4a4a">ρ</text>
<text x="585.2" y="163.0" font-size="12.6">2</text>
<text x="594.2" y="154.9" font-size="16.6">=0.9</text>
</svg>
</body></html>
